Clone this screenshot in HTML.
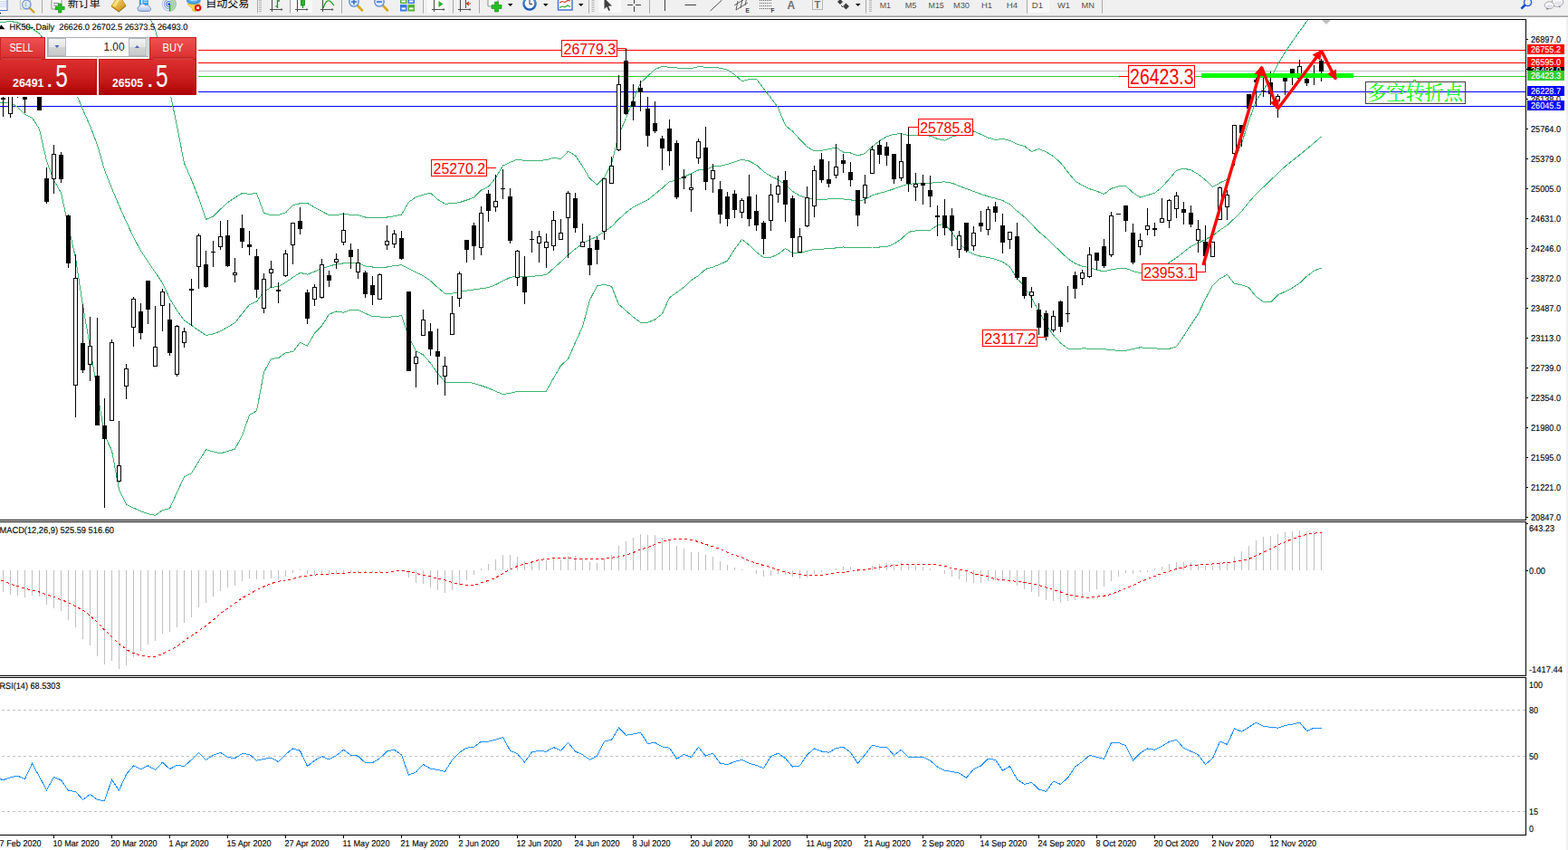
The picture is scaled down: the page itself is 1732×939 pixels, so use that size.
<!DOCTYPE html>
<html><head><meta charset="utf-8"><title>HK50 Daily</title>
<style>
html,body{margin:0;padding:0;background:#fff;}
body{width:1732px;height:939px;overflow:hidden;position:relative;font-family:"Liberation Sans", sans-serif;}
svg text{font-family:"Liberation Sans", sans-serif;}
</style></head><body>
<svg width="1732" height="939" viewBox="0 0 1732 939" font-family='"Liberation Sans", sans-serif' style="position:absolute;left:0;top:0">
<defs>
<linearGradient id="gTop" x1="0" y1="0" x2="0" y2="1"><stop offset="0" stop-color="#f25252"/><stop offset="1" stop-color="#d92e2e"/></linearGradient>
<linearGradient id="gBot" x1="0" y1="0" x2="0" y2="1"><stop offset="0" stop-color="#de3030"/><stop offset="0.55" stop-color="#c81c1c"/><stop offset="1" stop-color="#ae0202"/></linearGradient>
<linearGradient id="gBtn" x1="0" y1="0" x2="0" y2="1"><stop offset="0" stop-color="#f4f4f4"/><stop offset="0.5" stop-color="#e4e4e4"/><stop offset="0.5" stop-color="#d4d4d4"/><stop offset="1" stop-color="#c8c8c8"/></linearGradient>
<clipPath id="cpMain"><rect x="0" y="22" width="1685" height="552"/></clipPath>
<clipPath id="cpAxis"><rect x="0" y="923" width="1732" height="16"/></clipPath>
</defs>
<rect x="0" y="0" width="1732" height="939" fill="#fff"/>
<g clip-path="url(#cpMain)" shape-rendering="crispEdges">
<rect x="0" y="55" width="1685" height="1" fill="#ff0000"/>
<rect x="0" y="69" width="1685" height="1" fill="#ff0000"/>
<rect x="0" y="78" width="1685" height="1" fill="#c0c0c0"/>
<rect x="0" y="84" width="1685" height="1" fill="#32cd32"/>
<rect x="0" y="101" width="1685" height="1" fill="#0000ff"/>
<rect x="0" y="117" width="1685" height="1" fill="#0000ff"/>
<polyline points="158.0,2.0 163.5,15.6 171.5,32.4 179.5,67.9 187.5,100.7 195.5,139.4 203.5,180.3 211.5,198.7 219.5,218.7 227.5,242.4 235.5,239.0 243.5,231.2 251.5,223.7 259.5,218.3 267.5,213.4 275.5,214.3 283.5,213.6 291.5,235.1 299.5,238.0 307.5,237.5 315.5,234.9 323.5,226.5 331.5,224.8 339.5,224.4 347.5,229.3 355.5,233.4 363.5,237.6 371.5,237.2 379.5,236.8 387.5,237.1 395.5,237.6 403.5,240.0 411.5,240.0 419.5,240.0 427.5,240.0 435.5,238.8 443.5,237.2 451.5,223.2 459.5,217.7 467.5,215.1 475.5,213.1 483.5,220.3 491.5,225.3 499.5,224.6 507.5,223.7 515.5,221.0 523.5,218.3 531.5,210.0 539.5,206.3 547.5,196.5 555.5,183.0 563.5,179.3 571.5,176.1 579.5,177.5 587.5,177.5 595.5,177.5 603.5,176.7 611.5,174.4 619.5,175.4 627.5,167.2 635.5,171.7 643.5,183.8 651.5,197.2 659.5,204.1 667.5,196.0 675.5,180.8 683.5,148.6 691.5,130.5 699.5,110.1 707.5,91.7 715.5,84.0 723.5,76.6 731.5,73.5 739.5,74.3 747.5,75.0 755.5,75.5 763.5,75.8 771.5,73.5 779.5,74.3 787.5,74.5 795.5,75.1 803.5,77.1 811.5,82.5 819.5,89.5 827.5,87.7 835.5,87.2 843.5,97.9 851.5,108.1 859.5,119.0 867.5,138.6 875.5,145.1 883.5,154.0 891.5,162.3 899.5,167.0 907.5,166.2 915.5,164.8 923.5,162.8 931.5,168.1 939.5,169.0 947.5,171.9 955.5,169.5 963.5,162.0 971.5,155.7 979.5,150.8 987.5,148.3 995.5,147.7 1003.5,149.7 1011.5,149.4 1019.5,149.4 1027.5,150.1 1035.5,153.4 1043.5,155.1 1051.5,151.1 1059.5,149.3 1067.5,147.1 1075.5,145.0 1083.5,148.4 1091.5,152.1 1099.5,154.4 1107.5,153.5 1115.5,155.4 1123.5,159.4 1131.5,161.3 1139.5,167.6 1147.5,164.4 1155.5,167.8 1163.5,172.7 1171.5,179.8 1179.5,190.0 1187.5,199.9 1195.5,204.9 1203.5,208.7 1211.5,211.2 1219.5,214.6 1227.5,208.3 1235.5,205.9 1243.5,205.6 1251.5,212.8 1259.5,218.1 1267.5,215.6 1275.5,213.3 1283.5,206.7 1291.5,197.7 1299.5,188.4 1307.5,186.1 1315.5,187.9 1323.5,192.4 1331.5,198.8 1339.5,206.5 1347.5,202.0 1355.5,198.2 1363.5,176.9 1371.5,158.4 1379.5,133.6 1387.5,111.2 1395.5,99.2 1403.5,87.0 1411.5,71.2 1419.5,57.8 1427.5,45.8 1435.5,34.6 1443.5,23.6 1451.5,11.8" fill="none" stroke="#3cb371" stroke-width="1"/>
<polyline points="-4.5,24.5 3.5,24.4 11.5,23.4 19.5,25.0 27.5,28.5 35.5,31.5 43.5,37.0 51.5,48.2 59.5,59.3 67.5,72.5 75.5,86.0 83.5,101.5 91.5,121.0 99.5,139.0 107.5,160.0 115.5,188.0 123.5,208.0 131.5,227.0 139.5,245.0 147.5,262.0 155.5,277.0 163.5,289.0 171.5,301.0 179.5,312.5 187.5,330.0 195.5,343.0 203.5,354.0 211.5,359.4 219.5,365.0 227.5,370.4 235.5,369.0 243.5,365.8 251.5,361.3 259.5,356.6 267.5,346.5 275.5,336.5 283.5,333.1 291.5,322.2 299.5,317.3 307.5,316.7 315.5,311.9 323.5,306.4 331.5,301.3 339.5,303.2 347.5,300.0 355.5,296.7 363.5,294.2 371.5,291.8 379.5,290.9 387.5,290.0 395.5,290.7 403.5,293.9 411.5,295.0 419.5,295.0 427.5,295.0 435.5,293.6 443.5,292.7 451.5,296.8 459.5,300.8 467.5,304.8 475.5,310.2 483.5,317.7 491.5,324.2 499.5,324.1 507.5,322.4 515.5,321.1 523.5,319.9 531.5,318.8 539.5,317.6 547.5,314.5 555.5,310.4 563.5,306.5 571.5,305.0 579.5,305.2 587.5,305.3 595.5,304.6 603.5,303.6 611.5,296.4 619.5,289.2 627.5,281.8 635.5,274.9 643.5,268.9 651.5,264.8 659.5,261.2 667.5,255.9 675.5,250.4 683.5,242.1 691.5,234.9 699.5,228.7 707.5,224.8 715.5,220.8 723.5,214.4 731.5,207.9 739.5,200.7 747.5,199.3 755.5,195.4 763.5,191.6 771.5,188.0 779.5,187.3 787.5,184.1 795.5,183.3 803.5,181.4 811.5,178.8 819.5,176.1 827.5,178.0 835.5,182.1 843.5,189.6 851.5,194.6 859.5,198.5 867.5,203.8 875.5,211.3 883.5,216.3 891.5,218.7 899.5,220.7 907.5,220.6 915.5,219.9 923.5,219.2 931.5,220.0 939.5,220.8 947.5,222.4 955.5,220.4 963.5,215.9 971.5,213.4 979.5,211.3 987.5,208.7 995.5,205.7 1003.5,203.3 1011.5,202.8 1019.5,202.8 1027.5,202.4 1035.5,201.3 1043.5,200.9 1051.5,202.2 1059.5,205.5 1067.5,208.5 1075.5,211.4 1083.5,214.4 1091.5,217.0 1099.5,219.2 1107.5,221.5 1115.5,225.7 1123.5,233.2 1131.5,239.7 1139.5,247.5 1147.5,256.2 1155.5,262.7 1163.5,270.4 1171.5,278.0 1179.5,285.6 1187.5,291.0 1195.5,294.2 1203.5,295.6 1211.5,298.1 1219.5,299.9 1227.5,297.9 1235.5,296.7 1243.5,296.4 1251.5,299.5 1259.5,301.8 1267.5,300.9 1275.5,299.1 1283.5,295.1 1291.5,290.0 1299.5,284.8 1307.5,278.4 1315.5,272.2 1323.5,268.4 1331.5,264.6 1339.5,260.5 1347.5,254.2 1355.5,248.9 1363.5,241.3 1371.5,233.5 1379.5,223.3 1387.5,214.4 1395.5,206.8 1403.5,199.1 1411.5,191.5 1419.5,183.9 1427.5,177.5 1435.5,171.1 1443.5,164.7 1451.5,157.8 1459.5,151.0" fill="none" stroke="#3cb371" stroke-width="1"/>
<polyline points="-4.5,112.1 3.5,113.9 11.5,113.5 19.5,118.3 27.5,126.2 35.5,130.2 43.5,142.6 51.5,178.0 59.5,199.0 67.5,213.0 75.5,250.0 83.5,285.0 91.5,337.6 99.5,383.4 107.5,432.3 115.5,481.0 123.5,497.7 131.5,540.9 139.5,557.4 147.5,561.1 155.5,564.8 163.5,567.6 171.5,569.4 179.5,563.6 187.5,561.7 195.5,544.1 203.5,526.8 211.5,522.8 219.5,509.8 227.5,496.7 235.5,498.9 243.5,500.9 251.5,498.5 259.5,496.1 267.5,481.2 275.5,458.4 283.5,453.9 291.5,411.3 299.5,396.3 307.5,395.7 315.5,389.5 323.5,388.7 331.5,378.2 339.5,382.0 347.5,368.2 355.5,360.1 363.5,347.2 371.5,344.0 379.5,345.2 387.5,342.2 395.5,342.2 403.5,346.1 411.5,349.6 419.5,350.0 427.5,350.3 435.5,349.8 443.5,348.6 451.5,372.6 459.5,387.7 467.5,392.0 475.5,401.1 483.5,412.5 491.5,422.0 499.5,422.0 507.5,422.0 515.5,422.0 523.5,423.4 531.5,426.0 539.5,428.7 547.5,432.2 555.5,435.7 563.5,434.3 571.5,432.3 579.5,432.5 587.5,432.7 595.5,432.8 603.5,432.1 611.5,417.7 619.5,403.8 627.5,396.7 635.5,378.5 643.5,360.7 651.5,331.3 659.5,316.0 667.5,314.4 675.5,316.3 683.5,336.3 691.5,343.3 699.5,350.2 707.5,356.2 715.5,356.2 723.5,353.0 731.5,346.7 739.5,328.8 747.5,323.0 755.5,317.4 763.5,309.6 771.5,304.5 779.5,297.3 787.5,295.1 795.5,291.9 803.5,288.1 811.5,275.1 819.5,264.4 827.5,270.7 835.5,278.5 843.5,284.4 851.5,284.4 859.5,280.8 867.5,274.6 875.5,279.5 883.5,279.8 891.5,277.3 899.5,275.4 907.5,275.1 915.5,274.8 923.5,273.9 931.5,273.0 939.5,273.3 947.5,273.6 955.5,273.3 963.5,273.0 971.5,273.0 979.5,272.8 987.5,269.4 995.5,264.1 1003.5,256.4 1011.5,254.9 1019.5,254.6 1027.5,254.1 1035.5,249.1 1043.5,247.2 1051.5,256.9 1059.5,268.5 1067.5,276.5 1075.5,280.9 1083.5,283.3 1091.5,284.3 1099.5,286.3 1107.5,289.3 1115.5,294.9 1123.5,307.5 1131.5,316.7 1139.5,329.5 1147.5,343.7 1155.5,358.7 1163.5,370.1 1171.5,378.9 1179.5,385.0 1187.5,386.0 1195.5,384.9 1203.5,385.1 1211.5,385.4 1219.5,385.7 1227.5,386.6 1235.5,387.4 1243.5,387.3 1251.5,385.5 1259.5,383.8 1267.5,384.4 1275.5,384.9 1283.5,385.2 1291.5,385.3 1299.5,382.9 1307.5,371.3 1315.5,358.6 1323.5,346.8 1331.5,330.2 1339.5,315.4 1347.5,307.8 1355.5,303.3 1363.5,313.4 1371.5,314.8 1379.5,317.7 1387.5,327.8 1395.5,333.3 1403.5,334.0 1411.5,325.9 1419.5,322.1 1427.5,318.1 1435.5,312.8 1443.5,305.2 1451.5,299.1 1459.5,296.2" fill="none" stroke="#3cb371" stroke-width="1"/>
<rect x="3" y="100" width="1" height="29" fill="#000"/>
<rect x="1" y="108" width="5" height="2" fill="#000"/>
<rect x="11" y="100" width="1" height="30" fill="#000"/>
<rect x="9" y="100" width="5" height="26" fill="#000"/>
<rect x="10" y="101" width="3" height="24" fill="#fff"/>
<rect x="19" y="100" width="1" height="8" fill="#000"/>
<rect x="27" y="100" width="1" height="25" fill="#000"/>
<rect x="25" y="100" width="5" height="10" fill="#000"/>
<rect x="43" y="100" width="1" height="22" fill="#000"/>
<rect x="41" y="100" width="5" height="22" fill="#000"/>
<rect x="51" y="185" width="1" height="40" fill="#000"/>
<rect x="49" y="197" width="5" height="26" fill="#000"/>
<rect x="59" y="160" width="1" height="54" fill="#000"/>
<rect x="57" y="170" width="5" height="28" fill="#000"/>
<rect x="58" y="171" width="3" height="26" fill="#fff"/>
<rect x="67" y="168" width="1" height="34" fill="#000"/>
<rect x="65" y="171" width="5" height="27" fill="#000"/>
<rect x="75" y="237" width="1" height="59" fill="#000"/>
<rect x="73" y="238" width="5" height="53" fill="#000"/>
<rect x="83" y="281" width="1" height="180" fill="#000"/>
<rect x="81" y="307" width="5" height="119" fill="#000"/>
<rect x="82" y="308" width="3" height="117" fill="#fff"/>
<rect x="91" y="336" width="1" height="76" fill="#000"/>
<rect x="89" y="379" width="5" height="30" fill="#000"/>
<rect x="99" y="350" width="1" height="71" fill="#000"/>
<rect x="97" y="382" width="5" height="21" fill="#000"/>
<rect x="98" y="383" width="3" height="19" fill="#fff"/>
<rect x="107" y="351" width="1" height="119" fill="#000"/>
<rect x="105" y="415" width="5" height="55" fill="#000"/>
<rect x="115" y="440" width="1" height="121" fill="#000"/>
<rect x="113" y="470" width="5" height="15" fill="#000"/>
<rect x="123" y="375" width="1" height="90" fill="#000"/>
<rect x="121" y="378" width="5" height="87" fill="#000"/>
<rect x="122" y="379" width="3" height="85" fill="#fff"/>
<rect x="131" y="465" width="1" height="68" fill="#000"/>
<rect x="129" y="514" width="5" height="18" fill="#000"/>
<rect x="130" y="515" width="3" height="16" fill="#fff"/>
<rect x="139" y="402" width="1" height="39" fill="#000"/>
<rect x="137" y="407" width="5" height="20" fill="#000"/>
<rect x="138" y="408" width="3" height="18" fill="#fff"/>
<rect x="147" y="328" width="1" height="55" fill="#000"/>
<rect x="145" y="330" width="5" height="32" fill="#000"/>
<rect x="146" y="331" width="3" height="30" fill="#fff"/>
<rect x="155" y="335" width="1" height="40" fill="#000"/>
<rect x="153" y="344" width="5" height="24" fill="#000"/>
<rect x="163" y="310" width="1" height="48" fill="#000"/>
<rect x="161" y="310" width="5" height="32" fill="#000"/>
<rect x="171" y="338" width="1" height="67" fill="#000"/>
<rect x="169" y="383" width="5" height="22" fill="#000"/>
<rect x="170" y="384" width="3" height="20" fill="#fff"/>
<rect x="179" y="319" width="1" height="47" fill="#000"/>
<rect x="177" y="322" width="5" height="16" fill="#000"/>
<rect x="178" y="323" width="3" height="14" fill="#fff"/>
<rect x="187" y="335" width="1" height="58" fill="#000"/>
<rect x="185" y="353" width="5" height="37" fill="#000"/>
<rect x="195" y="359" width="1" height="57" fill="#000"/>
<rect x="193" y="360" width="5" height="54" fill="#000"/>
<rect x="194" y="361" width="3" height="52" fill="#fff"/>
<rect x="203" y="362" width="1" height="22" fill="#000"/>
<rect x="201" y="366" width="5" height="13" fill="#000"/>
<rect x="202" y="367" width="3" height="11" fill="#fff"/>
<rect x="211" y="308" width="1" height="52" fill="#000"/>
<rect x="209" y="319" width="5" height="2" fill="#000"/>
<rect x="219" y="258" width="1" height="61" fill="#000"/>
<rect x="217" y="260" width="5" height="35" fill="#000"/>
<rect x="218" y="261" width="3" height="33" fill="#fff"/>
<rect x="227" y="277" width="1" height="41" fill="#000"/>
<rect x="225" y="292" width="5" height="25" fill="#000"/>
<rect x="235" y="266" width="1" height="29" fill="#000"/>
<rect x="233" y="278" width="5" height="1" fill="#000"/>
<rect x="243" y="244" width="1" height="32" fill="#000"/>
<rect x="241" y="261" width="5" height="12" fill="#000"/>
<rect x="242" y="262" width="3" height="10" fill="#fff"/>
<rect x="251" y="243" width="1" height="52" fill="#000"/>
<rect x="249" y="260" width="5" height="34" fill="#000"/>
<rect x="259" y="285" width="1" height="27" fill="#000"/>
<rect x="257" y="301" width="5" height="3" fill="#000"/>
<rect x="258" y="302" width="3" height="1" fill="#fff"/>
<rect x="267" y="237" width="1" height="37" fill="#000"/>
<rect x="265" y="252" width="5" height="15" fill="#000"/>
<rect x="275" y="255" width="1" height="27" fill="#000"/>
<rect x="273" y="270" width="5" height="3" fill="#000"/>
<rect x="283" y="275" width="1" height="54" fill="#000"/>
<rect x="281" y="283" width="5" height="37" fill="#000"/>
<rect x="291" y="302" width="1" height="44" fill="#000"/>
<rect x="289" y="308" width="5" height="33" fill="#000"/>
<rect x="290" y="309" width="3" height="31" fill="#fff"/>
<rect x="299" y="288" width="1" height="30" fill="#000"/>
<rect x="297" y="297" width="5" height="5" fill="#000"/>
<rect x="298" y="298" width="3" height="3" fill="#fff"/>
<rect x="307" y="312" width="1" height="23" fill="#000"/>
<rect x="305" y="320" width="5" height="2" fill="#000"/>
<rect x="315" y="276" width="1" height="30" fill="#000"/>
<rect x="313" y="280" width="5" height="25" fill="#000"/>
<rect x="314" y="281" width="3" height="23" fill="#fff"/>
<rect x="323" y="246" width="1" height="46" fill="#000"/>
<rect x="321" y="246" width="5" height="25" fill="#000"/>
<rect x="322" y="247" width="3" height="23" fill="#fff"/>
<rect x="331" y="229" width="1" height="30" fill="#000"/>
<rect x="329" y="244" width="5" height="9" fill="#000"/>
<rect x="339" y="320" width="1" height="38" fill="#000"/>
<rect x="337" y="323" width="5" height="29" fill="#000"/>
<rect x="347" y="314" width="1" height="24" fill="#000"/>
<rect x="345" y="317" width="5" height="14" fill="#000"/>
<rect x="346" y="318" width="3" height="12" fill="#fff"/>
<rect x="355" y="286" width="1" height="44" fill="#000"/>
<rect x="353" y="292" width="5" height="37" fill="#000"/>
<rect x="354" y="293" width="3" height="35" fill="#fff"/>
<rect x="363" y="299" width="1" height="18" fill="#000"/>
<rect x="361" y="304" width="5" height="6" fill="#000"/>
<rect x="371" y="280" width="1" height="17" fill="#000"/>
<rect x="369" y="286" width="5" height="4" fill="#000"/>
<rect x="370" y="287" width="3" height="2" fill="#fff"/>
<rect x="379" y="235" width="1" height="36" fill="#000"/>
<rect x="377" y="254" width="5" height="14" fill="#000"/>
<rect x="378" y="255" width="3" height="12" fill="#fff"/>
<rect x="387" y="269" width="1" height="28" fill="#000"/>
<rect x="385" y="276" width="5" height="8" fill="#000"/>
<rect x="395" y="275" width="1" height="33" fill="#000"/>
<rect x="393" y="290" width="5" height="11" fill="#000"/>
<rect x="394" y="291" width="3" height="9" fill="#fff"/>
<rect x="403" y="299" width="1" height="30" fill="#000"/>
<rect x="401" y="301" width="5" height="24" fill="#000"/>
<rect x="411" y="305" width="1" height="32" fill="#000"/>
<rect x="409" y="315" width="5" height="11" fill="#000"/>
<rect x="419" y="302" width="1" height="29" fill="#000"/>
<rect x="417" y="303" width="5" height="28" fill="#000"/>
<rect x="418" y="304" width="3" height="26" fill="#fff"/>
<rect x="427" y="249" width="1" height="27" fill="#000"/>
<rect x="425" y="266" width="5" height="5" fill="#000"/>
<rect x="426" y="267" width="3" height="3" fill="#fff"/>
<rect x="435" y="254" width="1" height="20" fill="#000"/>
<rect x="433" y="258" width="5" height="12" fill="#000"/>
<rect x="434" y="259" width="3" height="10" fill="#fff"/>
<rect x="443" y="255" width="1" height="32" fill="#000"/>
<rect x="441" y="263" width="5" height="23" fill="#000"/>
<rect x="451" y="322" width="1" height="88" fill="#000"/>
<rect x="449" y="322" width="5" height="88" fill="#000"/>
<rect x="459" y="388" width="1" height="40" fill="#000"/>
<rect x="457" y="394" width="5" height="8" fill="#000"/>
<rect x="458" y="395" width="3" height="6" fill="#fff"/>
<rect x="467" y="342" width="1" height="29" fill="#000"/>
<rect x="465" y="353" width="5" height="18" fill="#000"/>
<rect x="466" y="354" width="3" height="16" fill="#fff"/>
<rect x="475" y="357" width="1" height="36" fill="#000"/>
<rect x="473" y="366" width="5" height="20" fill="#000"/>
<rect x="483" y="363" width="1" height="62" fill="#000"/>
<rect x="481" y="388" width="5" height="6" fill="#000"/>
<rect x="491" y="394" width="1" height="43" fill="#000"/>
<rect x="489" y="404" width="5" height="12" fill="#000"/>
<rect x="490" y="405" width="3" height="10" fill="#fff"/>
<rect x="499" y="327" width="1" height="43" fill="#000"/>
<rect x="497" y="346" width="5" height="24" fill="#000"/>
<rect x="498" y="347" width="3" height="22" fill="#fff"/>
<rect x="507" y="300" width="1" height="39" fill="#000"/>
<rect x="505" y="302" width="5" height="28" fill="#000"/>
<rect x="506" y="303" width="3" height="26" fill="#fff"/>
<rect x="515" y="265" width="1" height="25" fill="#000"/>
<rect x="513" y="265" width="5" height="11" fill="#000"/>
<rect x="523" y="246" width="1" height="41" fill="#000"/>
<rect x="521" y="249" width="5" height="23" fill="#000"/>
<rect x="531" y="228" width="1" height="54" fill="#000"/>
<rect x="529" y="235" width="5" height="39" fill="#000"/>
<rect x="530" y="236" width="3" height="37" fill="#fff"/>
<rect x="539" y="210" width="1" height="35" fill="#000"/>
<rect x="537" y="214" width="5" height="19" fill="#000"/>
<rect x="547" y="193" width="1" height="41" fill="#000"/>
<rect x="545" y="222" width="5" height="7" fill="#000"/>
<rect x="546" y="223" width="3" height="5" fill="#fff"/>
<rect x="555" y="187" width="1" height="33" fill="#000"/>
<rect x="553" y="208" width="5" height="1" fill="#000"/>
<rect x="563" y="208" width="1" height="61" fill="#000"/>
<rect x="561" y="217" width="5" height="49" fill="#000"/>
<rect x="571" y="276" width="1" height="40" fill="#000"/>
<rect x="569" y="277" width="5" height="30" fill="#000"/>
<rect x="570" y="278" width="3" height="28" fill="#fff"/>
<rect x="579" y="283" width="1" height="53" fill="#000"/>
<rect x="577" y="306" width="5" height="17" fill="#000"/>
<rect x="587" y="255" width="1" height="24" fill="#000"/>
<rect x="585" y="264" width="5" height="1" fill="#000"/>
<rect x="595" y="255" width="1" height="35" fill="#000"/>
<rect x="593" y="261" width="5" height="8" fill="#000"/>
<rect x="594" y="262" width="3" height="6" fill="#fff"/>
<rect x="603" y="258" width="1" height="38" fill="#000"/>
<rect x="601" y="267" width="5" height="7" fill="#000"/>
<rect x="602" y="268" width="3" height="5" fill="#fff"/>
<rect x="611" y="233" width="1" height="44" fill="#000"/>
<rect x="609" y="243" width="5" height="29" fill="#000"/>
<rect x="610" y="244" width="3" height="27" fill="#fff"/>
<rect x="619" y="242" width="1" height="23" fill="#000"/>
<rect x="617" y="257" width="5" height="8" fill="#000"/>
<rect x="618" y="258" width="3" height="6" fill="#fff"/>
<rect x="627" y="211" width="1" height="74" fill="#000"/>
<rect x="625" y="213" width="5" height="28" fill="#000"/>
<rect x="626" y="214" width="3" height="26" fill="#fff"/>
<rect x="635" y="213" width="1" height="44" fill="#000"/>
<rect x="633" y="219" width="5" height="33" fill="#000"/>
<rect x="643" y="247" width="1" height="26" fill="#000"/>
<rect x="641" y="267" width="5" height="6" fill="#000"/>
<rect x="642" y="268" width="3" height="4" fill="#fff"/>
<rect x="651" y="260" width="1" height="44" fill="#000"/>
<rect x="649" y="274" width="5" height="19" fill="#000"/>
<rect x="659" y="261" width="1" height="31" fill="#000"/>
<rect x="657" y="265" width="5" height="11" fill="#000"/>
<rect x="667" y="197" width="1" height="68" fill="#000"/>
<rect x="665" y="197" width="5" height="59" fill="#000"/>
<rect x="666" y="198" width="3" height="57" fill="#fff"/>
<rect x="675" y="173" width="1" height="30" fill="#000"/>
<rect x="673" y="183" width="5" height="20" fill="#000"/>
<rect x="674" y="184" width="3" height="18" fill="#fff"/>
<rect x="683" y="83" width="1" height="84" fill="#000"/>
<rect x="681" y="93" width="5" height="73" fill="#000"/>
<rect x="682" y="94" width="3" height="71" fill="#fff"/>
<rect x="691" y="53" width="1" height="74" fill="#000"/>
<rect x="689" y="67" width="5" height="59" fill="#000"/>
<rect x="699" y="93" width="1" height="40" fill="#000"/>
<rect x="697" y="112" width="5" height="6" fill="#000"/>
<rect x="707" y="89" width="1" height="34" fill="#000"/>
<rect x="705" y="97" width="5" height="5" fill="#000"/>
<rect x="715" y="107" width="1" height="55" fill="#000"/>
<rect x="713" y="120" width="5" height="30" fill="#000"/>
<rect x="723" y="112" width="1" height="35" fill="#000"/>
<rect x="721" y="136" width="5" height="9" fill="#000"/>
<rect x="731" y="150" width="1" height="38" fill="#000"/>
<rect x="729" y="153" width="5" height="11" fill="#000"/>
<rect x="739" y="132" width="1" height="51" fill="#000"/>
<rect x="737" y="142" width="5" height="25" fill="#000"/>
<rect x="747" y="155" width="1" height="65" fill="#000"/>
<rect x="745" y="158" width="5" height="60" fill="#000"/>
<rect x="755" y="187" width="1" height="22" fill="#000"/>
<rect x="753" y="195" width="5" height="2" fill="#000"/>
<rect x="763" y="192" width="1" height="42" fill="#000"/>
<rect x="761" y="207" width="5" height="3" fill="#000"/>
<rect x="762" y="208" width="3" height="1" fill="#fff"/>
<rect x="771" y="153" width="1" height="28" fill="#000"/>
<rect x="769" y="156" width="5" height="19" fill="#000"/>
<rect x="770" y="157" width="3" height="17" fill="#fff"/>
<rect x="779" y="140" width="1" height="70" fill="#000"/>
<rect x="777" y="163" width="5" height="38" fill="#000"/>
<rect x="787" y="181" width="1" height="32" fill="#000"/>
<rect x="785" y="188" width="5" height="10" fill="#000"/>
<rect x="786" y="189" width="3" height="8" fill="#fff"/>
<rect x="795" y="200" width="1" height="47" fill="#000"/>
<rect x="793" y="209" width="5" height="28" fill="#000"/>
<rect x="803" y="212" width="1" height="38" fill="#000"/>
<rect x="801" y="217" width="5" height="25" fill="#000"/>
<rect x="811" y="210" width="1" height="31" fill="#000"/>
<rect x="809" y="214" width="5" height="18" fill="#000"/>
<rect x="819" y="219" width="1" height="22" fill="#000"/>
<rect x="817" y="221" width="5" height="14" fill="#000"/>
<rect x="818" y="222" width="3" height="12" fill="#fff"/>
<rect x="827" y="193" width="1" height="57" fill="#000"/>
<rect x="825" y="217" width="5" height="25" fill="#000"/>
<rect x="835" y="215" width="1" height="40" fill="#000"/>
<rect x="833" y="233" width="5" height="16" fill="#000"/>
<rect x="843" y="244" width="1" height="37" fill="#000"/>
<rect x="841" y="246" width="5" height="18" fill="#000"/>
<rect x="851" y="203" width="1" height="52" fill="#000"/>
<rect x="849" y="215" width="5" height="29" fill="#000"/>
<rect x="850" y="216" width="3" height="27" fill="#fff"/>
<rect x="859" y="194" width="1" height="30" fill="#000"/>
<rect x="857" y="205" width="5" height="10" fill="#000"/>
<rect x="858" y="206" width="3" height="8" fill="#fff"/>
<rect x="867" y="189" width="1" height="56" fill="#000"/>
<rect x="865" y="199" width="5" height="27" fill="#000"/>
<rect x="875" y="216" width="1" height="68" fill="#000"/>
<rect x="873" y="219" width="5" height="44" fill="#000"/>
<rect x="883" y="252" width="1" height="27" fill="#000"/>
<rect x="881" y="261" width="5" height="18" fill="#000"/>
<rect x="882" y="262" width="3" height="16" fill="#fff"/>
<rect x="891" y="206" width="1" height="45" fill="#000"/>
<rect x="889" y="218" width="5" height="32" fill="#000"/>
<rect x="890" y="219" width="3" height="30" fill="#fff"/>
<rect x="899" y="183" width="1" height="57" fill="#000"/>
<rect x="897" y="188" width="5" height="40" fill="#000"/>
<rect x="898" y="189" width="3" height="38" fill="#fff"/>
<rect x="907" y="169" width="1" height="33" fill="#000"/>
<rect x="905" y="176" width="5" height="23" fill="#000"/>
<rect x="915" y="178" width="1" height="29" fill="#000"/>
<rect x="913" y="198" width="5" height="5" fill="#000"/>
<rect x="923" y="159" width="1" height="38" fill="#000"/>
<rect x="921" y="184" width="5" height="10" fill="#000"/>
<rect x="922" y="185" width="3" height="8" fill="#fff"/>
<rect x="931" y="170" width="1" height="21" fill="#000"/>
<rect x="929" y="177" width="5" height="4" fill="#000"/>
<rect x="939" y="179" width="1" height="27" fill="#000"/>
<rect x="937" y="190" width="5" height="9" fill="#000"/>
<rect x="947" y="210" width="1" height="40" fill="#000"/>
<rect x="945" y="210" width="5" height="28" fill="#000"/>
<rect x="955" y="193" width="1" height="32" fill="#000"/>
<rect x="953" y="204" width="5" height="15" fill="#000"/>
<rect x="954" y="205" width="3" height="13" fill="#fff"/>
<rect x="963" y="161" width="1" height="31" fill="#000"/>
<rect x="961" y="165" width="5" height="27" fill="#000"/>
<rect x="962" y="166" width="3" height="25" fill="#fff"/>
<rect x="971" y="155" width="1" height="26" fill="#000"/>
<rect x="969" y="160" width="5" height="11" fill="#000"/>
<rect x="979" y="157" width="1" height="26" fill="#000"/>
<rect x="977" y="162" width="5" height="10" fill="#000"/>
<rect x="987" y="170" width="1" height="33" fill="#000"/>
<rect x="985" y="170" width="5" height="28" fill="#000"/>
<rect x="995" y="147" width="1" height="53" fill="#000"/>
<rect x="993" y="178" width="5" height="19" fill="#000"/>
<rect x="994" y="179" width="3" height="17" fill="#fff"/>
<rect x="1003" y="140" width="1" height="72" fill="#000"/>
<rect x="1001" y="159" width="5" height="44" fill="#000"/>
<rect x="1011" y="191" width="1" height="31" fill="#000"/>
<rect x="1009" y="203" width="5" height="4" fill="#000"/>
<rect x="1010" y="204" width="3" height="2" fill="#fff"/>
<rect x="1019" y="193" width="1" height="33" fill="#000"/>
<rect x="1017" y="202" width="5" height="3" fill="#000"/>
<rect x="1027" y="194" width="1" height="35" fill="#000"/>
<rect x="1025" y="210" width="5" height="7" fill="#000"/>
<rect x="1035" y="227" width="1" height="34" fill="#000"/>
<rect x="1033" y="238" width="5" height="2" fill="#000"/>
<rect x="1043" y="220" width="1" height="40" fill="#000"/>
<rect x="1041" y="238" width="5" height="14" fill="#000"/>
<rect x="1051" y="230" width="1" height="42" fill="#000"/>
<rect x="1049" y="238" width="5" height="17" fill="#000"/>
<rect x="1059" y="255" width="1" height="30" fill="#000"/>
<rect x="1057" y="260" width="5" height="16" fill="#000"/>
<rect x="1058" y="261" width="3" height="14" fill="#fff"/>
<rect x="1067" y="246" width="1" height="33" fill="#000"/>
<rect x="1065" y="246" width="5" height="31" fill="#000"/>
<rect x="1075" y="250" width="1" height="27" fill="#000"/>
<rect x="1073" y="257" width="5" height="15" fill="#000"/>
<rect x="1074" y="258" width="3" height="13" fill="#fff"/>
<rect x="1083" y="233" width="1" height="23" fill="#000"/>
<rect x="1081" y="246" width="5" height="4" fill="#000"/>
<rect x="1091" y="228" width="1" height="32" fill="#000"/>
<rect x="1089" y="231" width="5" height="23" fill="#000"/>
<rect x="1090" y="232" width="3" height="21" fill="#fff"/>
<rect x="1099" y="223" width="1" height="22" fill="#000"/>
<rect x="1097" y="228" width="5" height="7" fill="#000"/>
<rect x="1107" y="236" width="1" height="44" fill="#000"/>
<rect x="1105" y="249" width="5" height="19" fill="#000"/>
<rect x="1115" y="257" width="1" height="18" fill="#000"/>
<rect x="1113" y="256" width="5" height="9" fill="#000"/>
<rect x="1114" y="257" width="3" height="7" fill="#fff"/>
<rect x="1123" y="246" width="1" height="63" fill="#000"/>
<rect x="1121" y="261" width="5" height="46" fill="#000"/>
<rect x="1131" y="306" width="1" height="24" fill="#000"/>
<rect x="1129" y="306" width="5" height="21" fill="#000"/>
<rect x="1139" y="317" width="1" height="23" fill="#000"/>
<rect x="1137" y="322" width="5" height="5" fill="#000"/>
<rect x="1138" y="323" width="3" height="3" fill="#fff"/>
<rect x="1147" y="335" width="1" height="35" fill="#000"/>
<rect x="1145" y="342" width="5" height="20" fill="#000"/>
<rect x="1155" y="343" width="1" height="33" fill="#000"/>
<rect x="1153" y="346" width="5" height="26" fill="#000"/>
<rect x="1163" y="343" width="1" height="24" fill="#000"/>
<rect x="1161" y="349" width="5" height="16" fill="#000"/>
<rect x="1162" y="350" width="3" height="14" fill="#fff"/>
<rect x="1171" y="332" width="1" height="35" fill="#000"/>
<rect x="1169" y="333" width="5" height="28" fill="#000"/>
<rect x="1179" y="316" width="1" height="40" fill="#000"/>
<rect x="1177" y="346" width="5" height="1" fill="#000"/>
<rect x="1187" y="300" width="1" height="30" fill="#000"/>
<rect x="1185" y="304" width="5" height="15" fill="#000"/>
<rect x="1195" y="298" width="1" height="17" fill="#000"/>
<rect x="1193" y="301" width="5" height="7" fill="#000"/>
<rect x="1194" y="302" width="3" height="5" fill="#fff"/>
<rect x="1203" y="273" width="1" height="34" fill="#000"/>
<rect x="1201" y="281" width="5" height="25" fill="#000"/>
<rect x="1202" y="282" width="3" height="23" fill="#fff"/>
<rect x="1211" y="279" width="1" height="19" fill="#000"/>
<rect x="1209" y="279" width="5" height="9" fill="#000"/>
<rect x="1219" y="264" width="1" height="32" fill="#000"/>
<rect x="1217" y="272" width="5" height="22" fill="#000"/>
<rect x="1227" y="234" width="1" height="50" fill="#000"/>
<rect x="1225" y="238" width="5" height="44" fill="#000"/>
<rect x="1226" y="239" width="3" height="42" fill="#fff"/>
<rect x="1233" y="236" width="5" height="1" fill="#000"/>
<rect x="1243" y="227" width="1" height="29" fill="#000"/>
<rect x="1241" y="227" width="5" height="17" fill="#000"/>
<rect x="1251" y="247" width="1" height="45" fill="#000"/>
<rect x="1249" y="257" width="5" height="33" fill="#000"/>
<rect x="1259" y="258" width="1" height="24" fill="#000"/>
<rect x="1257" y="265" width="5" height="8" fill="#000"/>
<rect x="1258" y="266" width="3" height="6" fill="#fff"/>
<rect x="1267" y="230" width="1" height="30" fill="#000"/>
<rect x="1265" y="249" width="5" height="5" fill="#000"/>
<rect x="1266" y="250" width="3" height="3" fill="#fff"/>
<rect x="1275" y="246" width="1" height="15" fill="#000"/>
<rect x="1273" y="252" width="5" height="2" fill="#000"/>
<rect x="1283" y="219" width="1" height="27" fill="#000"/>
<rect x="1281" y="241" width="5" height="5" fill="#000"/>
<rect x="1282" y="242" width="3" height="3" fill="#fff"/>
<rect x="1291" y="220" width="1" height="32" fill="#000"/>
<rect x="1289" y="221" width="5" height="23" fill="#000"/>
<rect x="1290" y="222" width="3" height="21" fill="#fff"/>
<rect x="1299" y="212" width="1" height="29" fill="#000"/>
<rect x="1297" y="216" width="5" height="15" fill="#000"/>
<rect x="1298" y="217" width="3" height="13" fill="#fff"/>
<rect x="1307" y="223" width="1" height="25" fill="#000"/>
<rect x="1305" y="231" width="5" height="4" fill="#000"/>
<rect x="1315" y="227" width="1" height="24" fill="#000"/>
<rect x="1313" y="235" width="5" height="13" fill="#000"/>
<rect x="1323" y="243" width="1" height="36" fill="#000"/>
<rect x="1321" y="253" width="5" height="13" fill="#000"/>
<rect x="1322" y="254" width="3" height="11" fill="#fff"/>
<rect x="1331" y="249" width="1" height="51" fill="#000"/>
<rect x="1329" y="267" width="5" height="16" fill="#000"/>
<rect x="1339" y="268" width="1" height="16" fill="#000"/>
<rect x="1337" y="267" width="5" height="17" fill="#000"/>
<rect x="1338" y="268" width="3" height="15" fill="#fff"/>
<rect x="1347" y="206" width="1" height="37" fill="#000"/>
<rect x="1345" y="207" width="5" height="36" fill="#000"/>
<rect x="1346" y="208" width="3" height="34" fill="#fff"/>
<rect x="1355" y="210" width="1" height="33" fill="#000"/>
<rect x="1353" y="215" width="5" height="14" fill="#000"/>
<rect x="1354" y="216" width="3" height="12" fill="#fff"/>
<rect x="1363" y="138" width="1" height="45" fill="#000"/>
<rect x="1361" y="138" width="5" height="32" fill="#000"/>
<rect x="1362" y="139" width="3" height="30" fill="#fff"/>
<rect x="1371" y="138" width="1" height="24" fill="#000"/>
<rect x="1369" y="138" width="5" height="9" fill="#000"/>
<rect x="1379" y="104" width="1" height="16" fill="#000"/>
<rect x="1377" y="104" width="5" height="16" fill="#000"/>
<rect x="1387" y="86" width="1" height="31" fill="#000"/>
<rect x="1385" y="88" width="5" height="3" fill="#000"/>
<rect x="1395" y="80" width="1" height="27" fill="#000"/>
<rect x="1393" y="100" width="5" height="1" fill="#000"/>
<rect x="1403" y="79" width="1" height="37" fill="#000"/>
<rect x="1401" y="91" width="5" height="13" fill="#000"/>
<rect x="1411" y="104" width="1" height="26" fill="#000"/>
<rect x="1409" y="106" width="5" height="6" fill="#000"/>
<rect x="1410" y="107" width="3" height="4" fill="#fff"/>
<rect x="1419" y="86" width="1" height="19" fill="#000"/>
<rect x="1417" y="86" width="5" height="4" fill="#000"/>
<rect x="1427" y="76" width="1" height="18" fill="#000"/>
<rect x="1425" y="76" width="5" height="5" fill="#000"/>
<rect x="1435" y="66" width="1" height="21" fill="#000"/>
<rect x="1433" y="73" width="5" height="14" fill="#000"/>
<rect x="1434" y="74" width="3" height="12" fill="#fff"/>
<rect x="1443" y="86" width="1" height="9" fill="#000"/>
<rect x="1441" y="87" width="5" height="5" fill="#000"/>
<rect x="1451" y="72" width="1" height="22" fill="#000"/>
<rect x="1449" y="84" width="5" height="1" fill="#000"/>
<rect x="1459" y="65" width="1" height="25" fill="#000"/>
<rect x="1457" y="67" width="5" height="12" fill="#000"/>
</g>
<g clip-path="url(#cpMain)">
<rect x="1327" y="81" width="168" height="5" fill="#00ff00" shape-rendering="crispEdges"/>
<line x1="682" y1="53.5" x2="692" y2="53.5" stroke="#ff0000" stroke-width="1" shape-rendering="crispEdges"/>
<rect x="620.5" y="44.5" width="61" height="18" fill="#fff" stroke="#ff0000" stroke-width="1" shape-rendering="crispEdges"/>
<text x="622.55" y="59.7" font-size="17" fill="#ff0000" textLength="57.5" lengthAdjust="spacingAndGlyphs">26779.3</text>
<line x1="538" y1="185.5" x2="548" y2="185.5" stroke="#ff0000" stroke-width="1" shape-rendering="crispEdges"/>
<rect x="476.5" y="176.5" width="61" height="18" fill="#fff" stroke="#ff0000" stroke-width="1" shape-rendering="crispEdges"/>
<text x="478.55" y="191.7" font-size="17" fill="#ff0000" textLength="57.5" lengthAdjust="spacingAndGlyphs">25270.2</text>
<line x1="1003" y1="140.5" x2="1014" y2="140.5" stroke="#ff0000" stroke-width="1" shape-rendering="crispEdges"/>
<rect x="1014.5" y="131.5" width="60" height="18" fill="#fff" stroke="#ff0000" stroke-width="1" shape-rendering="crispEdges"/>
<text x="1016.3" y="146.7" font-size="17" fill="#ff0000" textLength="57" lengthAdjust="spacingAndGlyphs">25785.8</text>
<line x1="1145" y1="372.5" x2="1156" y2="372.5" stroke="#ff0000" stroke-width="1" shape-rendering="crispEdges"/>
<rect x="1085.5" y="364.5" width="60" height="18" fill="#fff" stroke="#ff0000" stroke-width="1" shape-rendering="crispEdges"/>
<text x="1087.3" y="379.7" font-size="17" fill="#ff0000" textLength="57" lengthAdjust="spacingAndGlyphs">23117.2</text>
<line x1="1321" y1="300.5" x2="1332" y2="300.5" stroke="#ff0000" stroke-width="1" shape-rendering="crispEdges"/>
<line x1="1331.5" y1="283" x2="1331.5" y2="301" stroke="#ff0000" stroke-width="1" shape-rendering="crispEdges"/>
<rect x="1261.5" y="291.5" width="60" height="18" fill="#fff" stroke="#ff0000" stroke-width="1" shape-rendering="crispEdges"/>
<text x="1263.3" y="306.7" font-size="17" fill="#ff0000" textLength="57" lengthAdjust="spacingAndGlyphs">23953.1</text>
<line x1="1236" y1="84.5" x2="1246" y2="84.5" stroke="#ff0000" stroke-width="1" shape-rendering="crispEdges"/>
<rect x="1246.5" y="72.5" width="73" height="24" fill="#fff" stroke="#ff0000" stroke-width="1" shape-rendering="crispEdges"/>
<text x="1248.05" y="93" font-size="23.2" fill="#ff0000" textLength="70.5" lengthAdjust="spacingAndGlyphs">26423.3</text>
<rect x="1508.5" y="90.5" width="110" height="24" fill="none" stroke="#404040" stroke-width="1" shape-rendering="crispEdges"/>
<text x="1510" y="109.5" font-size="21.5" fill="#00ff00" textLength="106" lengthAdjust="spacingAndGlyphs" style='font-family:"Liberation Sans", "Noto Serif CJK SC", "Noto Sans CJK SC", serif;'>多空转折点</text>
<rect x="1561.5" y="88.5" width="2" height="2" fill="#fff" stroke="#00e000" stroke-width="1" shape-rendering="crispEdges"/>
<line x1="1329" y1="293" x2="1393.5" y2="74" stroke="#ff0000" stroke-width="3.4" stroke-linecap="butt"/>
<polygon points="1393.9,72.6 1396.0,84.6 1385.6,81.6" fill="#ff0000"/>
<line x1="1393.5" y1="74" x2="1411.3" y2="120" stroke="#ff0000" stroke-width="3.4" stroke-linecap="butt"/>
<polygon points="1411.8,121.4 1402.8,113.1 1412.9,109.2" fill="#ff0000"/>
<line x1="1411.3" y1="120.5" x2="1459.6" y2="56" stroke="#ff0000" stroke-width="3.4" stroke-linecap="butt"/>
<polygon points="1460.5,54.8 1458.2,66.8 1449.6,60.4" fill="#ff0000"/>
<line x1="1459.6" y1="56" x2="1475.5" y2="87.5" stroke="#ff0000" stroke-width="3.4" stroke-linecap="butt"/>
<polygon points="1476.2,88.8 1466.4,81.5 1476.0,76.6" fill="#ff0000"/>
</g>
<polygon points="1460,22 1470,22 1465,27" fill="#c0c0c0"/>
<polygon points="-2.6,32.2 1.5,27.6 5.4,32.2" fill="#000"/>
<text x="10.5" y="33" font-size="9.6" fill="#000" textLength="197" lengthAdjust="spacingAndGlyphs" stroke="#000" stroke-width="0.12" text-rendering="geometricPrecision">HK50-,Daily&#160;&#160;26626.0 26702.5 26373.5 26493.0</text>
<g>
<rect x="0" y="41" width="219" height="66" fill="#fff"/>
<rect x="0" y="41" width="50" height="24" fill="url(#gTop)"/>
<rect x="165" y="41" width="52" height="24" fill="url(#gTop)"/>
<rect x="0" y="65" width="107" height="40" fill="url(#gBot)"/>
<rect x="109" y="65" width="108" height="40" fill="url(#gBot)"/>
<rect x="0" y="41" width="50" height="1" fill="#c01c1c"/>
<rect x="49" y="41" width="1" height="24" fill="#c01c1c"/>
<rect x="0" y="41" width="1" height="24" fill="#c82424"/>
<rect x="165" y="41" width="52" height="1" fill="#c01c1c"/>
<rect x="165" y="41" width="1" height="24" fill="#c01c1c"/>
<rect x="216" y="41" width="1" height="24" fill="#c01c1c"/>
<rect x="0" y="65" width="107" height="1" fill="#c41818"/>
<rect x="109" y="65" width="108" height="1" fill="#c41818"/>
<rect x="106" y="65" width="1" height="40" fill="#b01010"/>
<rect x="109" y="65" width="1" height="40" fill="#b01010"/>
<rect x="216" y="65" width="1" height="40" fill="#b01010"/>
<rect x="2" y="63.6" width="44" height="1" fill="#9c0c0c"/>
<rect x="2" y="64.6" width="44" height="0.8" fill="#f07070"/>
<rect x="169" y="63.6" width="44" height="1" fill="#9c0c0c"/>
<rect x="169" y="64.6" width="44" height="0.8" fill="#f07070"/>
<text x="23.5" y="56.5" font-size="12" fill="#fff" text-anchor="middle" textLength="26" lengthAdjust="spacingAndGlyphs">SELL</text>
<text x="191" y="56.5" font-size="12" fill="#fff" text-anchor="middle" textLength="23" lengthAdjust="spacingAndGlyphs">BUY</text>
<rect x="52.5" y="41.5" width="111" height="21" fill="#fff" stroke="#a8acb4" stroke-width="1"/>
<rect x="53.5" y="42.5" width="19" height="19" fill="url(#gBtn)" stroke="#b4b8c0" stroke-width="1"/>
<rect x="142.5" y="42.5" width="19" height="19" fill="url(#gBtn)" stroke="#b4b8c0" stroke-width="1"/>
<polygon points="60.5,50 65.5,50 63,53" fill="#5060c0"/>
<polygon points="149,53 154,53 151.5,50" fill="#5060c0"/>
<text x="137.5" y="56" font-size="12.5" fill="#202020" text-anchor="end" textLength="23" lengthAdjust="spacingAndGlyphs">1.00</text>
<text x="14" y="95.7" font-size="12.2" fill="#fff" textLength="34.5" lengthAdjust="spacingAndGlyphs" font-weight="bold">26491</text>
<text x="52" y="95.7" font-size="20" fill="#fff" font-weight="bold">.</text>
<text x="61.2" y="95.7" font-size="34.6" fill="#fff" textLength="13.6" lengthAdjust="spacingAndGlyphs">5</text>
<text x="124" y="95.7" font-size="12.2" fill="#fff" textLength="34" lengthAdjust="spacingAndGlyphs" font-weight="bold">26505</text>
<text x="163" y="95.7" font-size="20" fill="#fff" font-weight="bold">.</text>
<text x="172" y="95.7" font-size="34.6" fill="#fff" textLength="13.6" lengthAdjust="spacingAndGlyphs">5</text>
</g>
<g shape-rendering="crispEdges">
<rect x="0" y="21" width="1686" height="1" fill="#000"/>
<rect x="1685" y="21" width="1" height="554" fill="#000"/>
<rect x="1685" y="576" width="1" height="171" fill="#000"/>
<rect x="1685" y="748" width="1" height="175" fill="#000"/>
<rect x="0" y="574" width="1686" height="1" fill="#000"/>
<rect x="0" y="576" width="1686" height="1" fill="#000"/>
<rect x="0" y="746" width="1686" height="1" fill="#000"/>
<rect x="0" y="748" width="1686" height="1" fill="#000"/>
<rect x="0" y="922" width="1686" height="1" fill="#000"/>
<rect x="1730" y="19" width="2" height="920" fill="#f0f0f0"/>
</g>
<rect x="1686" y="43" width="2" height="1" fill="#000" shape-rendering="crispEdges"/>
<text x="1691" y="47" font-size="9.9" fill="#000" textLength="33" lengthAdjust="spacingAndGlyphs" stroke="#000" stroke-width="0.12" text-rendering="geometricPrecision">26897.0</text>
<rect x="1686" y="76" width="2" height="1" fill="#000" shape-rendering="crispEdges"/>
<text x="1691" y="80" font-size="9.9" fill="#000" textLength="33" lengthAdjust="spacingAndGlyphs" stroke="#000" stroke-width="0.12" text-rendering="geometricPrecision">26513.0</text>
<rect x="1686" y="109" width="2" height="1" fill="#000" shape-rendering="crispEdges"/>
<text x="1691" y="113" font-size="9.9" fill="#000" textLength="33" lengthAdjust="spacingAndGlyphs" stroke="#000" stroke-width="0.12" text-rendering="geometricPrecision">26138.0</text>
<rect x="1686" y="142" width="2" height="1" fill="#000" shape-rendering="crispEdges"/>
<text x="1691" y="146" font-size="9.9" fill="#000" textLength="33" lengthAdjust="spacingAndGlyphs" stroke="#000" stroke-width="0.12" text-rendering="geometricPrecision">25764.0</text>
<rect x="1686" y="175" width="2" height="1" fill="#000" shape-rendering="crispEdges"/>
<text x="1691" y="179" font-size="9.9" fill="#000" textLength="33" lengthAdjust="spacingAndGlyphs" stroke="#000" stroke-width="0.12" text-rendering="geometricPrecision">25379.0</text>
<rect x="1686" y="208" width="2" height="1" fill="#000" shape-rendering="crispEdges"/>
<text x="1691" y="212" font-size="9.9" fill="#000" textLength="33" lengthAdjust="spacingAndGlyphs" stroke="#000" stroke-width="0.12" text-rendering="geometricPrecision">25005.0</text>
<rect x="1686" y="241" width="2" height="1" fill="#000" shape-rendering="crispEdges"/>
<text x="1691" y="245" font-size="9.9" fill="#000" textLength="33" lengthAdjust="spacingAndGlyphs" stroke="#000" stroke-width="0.12" text-rendering="geometricPrecision">24631.0</text>
<rect x="1686" y="274" width="2" height="1" fill="#000" shape-rendering="crispEdges"/>
<text x="1691" y="278" font-size="9.9" fill="#000" textLength="33" lengthAdjust="spacingAndGlyphs" stroke="#000" stroke-width="0.12" text-rendering="geometricPrecision">24246.0</text>
<rect x="1686" y="307" width="2" height="1" fill="#000" shape-rendering="crispEdges"/>
<text x="1691" y="311" font-size="9.9" fill="#000" textLength="33" lengthAdjust="spacingAndGlyphs" stroke="#000" stroke-width="0.12" text-rendering="geometricPrecision">23872.0</text>
<rect x="1686" y="340" width="2" height="1" fill="#000" shape-rendering="crispEdges"/>
<text x="1691" y="344" font-size="9.9" fill="#000" textLength="33" lengthAdjust="spacingAndGlyphs" stroke="#000" stroke-width="0.12" text-rendering="geometricPrecision">23487.0</text>
<rect x="1686" y="373" width="2" height="1" fill="#000" shape-rendering="crispEdges"/>
<text x="1691" y="377" font-size="9.9" fill="#000" textLength="33" lengthAdjust="spacingAndGlyphs" stroke="#000" stroke-width="0.12" text-rendering="geometricPrecision">23113.0</text>
<rect x="1686" y="406" width="2" height="1" fill="#000" shape-rendering="crispEdges"/>
<text x="1691" y="410" font-size="9.9" fill="#000" textLength="33" lengthAdjust="spacingAndGlyphs" stroke="#000" stroke-width="0.12" text-rendering="geometricPrecision">22739.0</text>
<rect x="1686" y="439" width="2" height="1" fill="#000" shape-rendering="crispEdges"/>
<text x="1691" y="443" font-size="9.9" fill="#000" textLength="33" lengthAdjust="spacingAndGlyphs" stroke="#000" stroke-width="0.12" text-rendering="geometricPrecision">22354.0</text>
<rect x="1686" y="472" width="2" height="1" fill="#000" shape-rendering="crispEdges"/>
<text x="1691" y="476" font-size="9.9" fill="#000" textLength="33" lengthAdjust="spacingAndGlyphs" stroke="#000" stroke-width="0.12" text-rendering="geometricPrecision">21980.0</text>
<rect x="1686" y="505" width="2" height="1" fill="#000" shape-rendering="crispEdges"/>
<text x="1691" y="509" font-size="9.9" fill="#000" textLength="33" lengthAdjust="spacingAndGlyphs" stroke="#000" stroke-width="0.12" text-rendering="geometricPrecision">21595.0</text>
<rect x="1686" y="538" width="2" height="1" fill="#000" shape-rendering="crispEdges"/>
<text x="1691" y="542" font-size="9.9" fill="#000" textLength="33" lengthAdjust="spacingAndGlyphs" stroke="#000" stroke-width="0.12" text-rendering="geometricPrecision">21221.0</text>
<rect x="1686" y="571" width="2" height="1" fill="#000" shape-rendering="crispEdges"/>
<text x="1691" y="575" font-size="9.9" fill="#000" textLength="33" lengthAdjust="spacingAndGlyphs" stroke="#000" stroke-width="0.12" text-rendering="geometricPrecision">20847.0</text>
<rect x="1687" y="72" width="41" height="11" fill="#000" shape-rendering="crispEdges"/>
<text x="1691" y="81" font-size="9.9" fill="#fff" textLength="33" lengthAdjust="spacingAndGlyphs" stroke="#fff" stroke-width="0.12" text-rendering="geometricPrecision">26493.0</text>
<rect x="1687" y="49" width="41" height="11" fill="#ff0000" shape-rendering="crispEdges"/>
<text x="1691" y="58" font-size="9.9" fill="#fff" textLength="33" lengthAdjust="spacingAndGlyphs" stroke="#fff" stroke-width="0.12" text-rendering="geometricPrecision">26755.2</text>
<rect x="1687" y="63" width="41" height="11" fill="#ff0000" shape-rendering="crispEdges"/>
<text x="1691" y="72" font-size="9.9" fill="#fff" textLength="33" lengthAdjust="spacingAndGlyphs" stroke="#fff" stroke-width="0.12" text-rendering="geometricPrecision">26595.0</text>
<rect x="1687" y="78" width="41" height="11" fill="#32cd32" shape-rendering="crispEdges"/>
<text x="1691" y="87" font-size="9.9" fill="#fff" textLength="33" lengthAdjust="spacingAndGlyphs" stroke="#fff" stroke-width="0.12" text-rendering="geometricPrecision">26423.3</text>
<rect x="1687" y="95" width="41" height="11" fill="#0000ff" shape-rendering="crispEdges"/>
<text x="1691" y="104" font-size="9.9" fill="#fff" textLength="33" lengthAdjust="spacingAndGlyphs" stroke="#fff" stroke-width="0.12" text-rendering="geometricPrecision">26228.7</text>
<rect x="1687" y="111" width="41" height="11" fill="#0000ff" shape-rendering="crispEdges"/>
<text x="1691" y="120" font-size="9.9" fill="#fff" textLength="33" lengthAdjust="spacingAndGlyphs" stroke="#fff" stroke-width="0.12" text-rendering="geometricPrecision">26045.5</text>
<text x="-0.5" y="589" font-size="9.9" fill="#000" textLength="126.5" lengthAdjust="spacingAndGlyphs" stroke="#000" stroke-width="0.12" text-rendering="geometricPrecision">MACD(12,26,9) 525.59 516.60</text>
<g shape-rendering="crispEdges">
<rect x="3" y="630" width="1" height="24" fill="#c0c0c0"/>
<rect x="11" y="630" width="1" height="27" fill="#c0c0c0"/>
<rect x="19" y="630" width="1" height="28" fill="#c0c0c0"/>
<rect x="27" y="630" width="1" height="30" fill="#c0c0c0"/>
<rect x="35" y="630" width="1" height="28" fill="#c0c0c0"/>
<rect x="43" y="630" width="1" height="29" fill="#c0c0c0"/>
<rect x="51" y="630" width="1" height="38" fill="#c0c0c0"/>
<rect x="59" y="630" width="1" height="42" fill="#c0c0c0"/>
<rect x="67" y="630" width="1" height="45" fill="#c0c0c0"/>
<rect x="75" y="630" width="1" height="55" fill="#c0c0c0"/>
<rect x="83" y="630" width="1" height="63" fill="#c0c0c0"/>
<rect x="91" y="630" width="1" height="76" fill="#c0c0c0"/>
<rect x="99" y="630" width="1" height="83" fill="#c0c0c0"/>
<rect x="107" y="630" width="1" height="95" fill="#c0c0c0"/>
<rect x="115" y="630" width="1" height="104" fill="#c0c0c0"/>
<rect x="123" y="630" width="1" height="100" fill="#c0c0c0"/>
<rect x="131" y="630" width="1" height="109" fill="#c0c0c0"/>
<rect x="139" y="630" width="1" height="105" fill="#c0c0c0"/>
<rect x="147" y="630" width="1" height="96" fill="#c0c0c0"/>
<rect x="155" y="630" width="1" height="89" fill="#c0c0c0"/>
<rect x="163" y="630" width="1" height="82" fill="#c0c0c0"/>
<rect x="171" y="630" width="1" height="78" fill="#c0c0c0"/>
<rect x="179" y="630" width="1" height="70" fill="#c0c0c0"/>
<rect x="187" y="630" width="1" height="68" fill="#c0c0c0"/>
<rect x="195" y="630" width="1" height="63" fill="#c0c0c0"/>
<rect x="203" y="630" width="1" height="58" fill="#c0c0c0"/>
<rect x="211" y="630" width="1" height="52" fill="#c0c0c0"/>
<rect x="219" y="630" width="1" height="41" fill="#c0c0c0"/>
<rect x="227" y="630" width="1" height="36" fill="#c0c0c0"/>
<rect x="235" y="630" width="1" height="29" fill="#c0c0c0"/>
<rect x="243" y="630" width="1" height="23" fill="#c0c0c0"/>
<rect x="251" y="630" width="1" height="19" fill="#c0c0c0"/>
<rect x="259" y="630" width="1" height="17" fill="#c0c0c0"/>
<rect x="267" y="630" width="1" height="12" fill="#c0c0c0"/>
<rect x="275" y="630" width="1" height="9" fill="#c0c0c0"/>
<rect x="283" y="630" width="1" height="10" fill="#c0c0c0"/>
<rect x="291" y="630" width="1" height="10" fill="#c0c0c0"/>
<rect x="299" y="630" width="1" height="9" fill="#c0c0c0"/>
<rect x="307" y="630" width="1" height="10" fill="#c0c0c0"/>
<rect x="315" y="630" width="1" height="7" fill="#c0c0c0"/>
<rect x="323" y="630" width="1" height="3" fill="#c0c0c0"/>
<rect x="331" y="629" width="1" height="1" fill="#c0c0c0"/>
<rect x="339" y="630" width="1" height="4" fill="#c0c0c0"/>
<rect x="347" y="630" width="1" height="5" fill="#c0c0c0"/>
<rect x="355" y="630" width="1" height="4" fill="#c0c0c0"/>
<rect x="363" y="630" width="1" height="4" fill="#c0c0c0"/>
<rect x="371" y="630" width="1" height="4" fill="#c0c0c0"/>
<rect x="379" y="630" width="1" height="3" fill="#c0c0c0"/>
<rect x="387" y="630" width="1" height="3" fill="#c0c0c0"/>
<rect x="395" y="630" width="1" height="3" fill="#c0c0c0"/>
<rect x="403" y="630" width="1" height="3" fill="#c0c0c0"/>
<rect x="411" y="630" width="1" height="3" fill="#c0c0c0"/>
<rect x="419" y="630" width="1" height="2" fill="#c0c0c0"/>
<rect x="435" y="629" width="1" height="1" fill="#c0c0c0"/>
<rect x="443" y="629" width="1" height="1" fill="#c0c0c0"/>
<rect x="451" y="630" width="1" height="8" fill="#c0c0c0"/>
<rect x="459" y="630" width="1" height="14" fill="#c0c0c0"/>
<rect x="467" y="630" width="1" height="15" fill="#c0c0c0"/>
<rect x="475" y="630" width="1" height="19" fill="#c0c0c0"/>
<rect x="483" y="630" width="1" height="22" fill="#c0c0c0"/>
<rect x="491" y="630" width="1" height="25" fill="#c0c0c0"/>
<rect x="499" y="630" width="1" height="22" fill="#c0c0c0"/>
<rect x="507" y="630" width="1" height="17" fill="#c0c0c0"/>
<rect x="515" y="630" width="1" height="11" fill="#c0c0c0"/>
<rect x="523" y="630" width="1" height="5" fill="#c0c0c0"/>
<rect x="531" y="628" width="1" height="2" fill="#c0c0c0"/>
<rect x="539" y="623" width="1" height="7" fill="#c0c0c0"/>
<rect x="547" y="618" width="1" height="12" fill="#c0c0c0"/>
<rect x="555" y="613" width="1" height="17" fill="#c0c0c0"/>
<rect x="563" y="613" width="1" height="17" fill="#c0c0c0"/>
<rect x="571" y="615" width="1" height="15" fill="#c0c0c0"/>
<rect x="579" y="620" width="1" height="10" fill="#c0c0c0"/>
<rect x="587" y="620" width="1" height="10" fill="#c0c0c0"/>
<rect x="595" y="619" width="1" height="11" fill="#c0c0c0"/>
<rect x="603" y="619" width="1" height="11" fill="#c0c0c0"/>
<rect x="611" y="617" width="1" height="13" fill="#c0c0c0"/>
<rect x="619" y="618" width="1" height="12" fill="#c0c0c0"/>
<rect x="627" y="614" width="1" height="16" fill="#c0c0c0"/>
<rect x="635" y="614" width="1" height="16" fill="#c0c0c0"/>
<rect x="643" y="617" width="1" height="13" fill="#c0c0c0"/>
<rect x="651" y="621" width="1" height="9" fill="#c0c0c0"/>
<rect x="659" y="622" width="1" height="8" fill="#c0c0c0"/>
<rect x="667" y="617" width="1" height="13" fill="#c0c0c0"/>
<rect x="675" y="613" width="1" height="17" fill="#c0c0c0"/>
<rect x="683" y="603" width="1" height="27" fill="#c0c0c0"/>
<rect x="691" y="598" width="1" height="32" fill="#c0c0c0"/>
<rect x="699" y="594" width="1" height="36" fill="#c0c0c0"/>
<rect x="707" y="590" width="1" height="40" fill="#c0c0c0"/>
<rect x="715" y="591" width="1" height="39" fill="#c0c0c0"/>
<rect x="723" y="591" width="1" height="39" fill="#c0c0c0"/>
<rect x="731" y="594" width="1" height="36" fill="#c0c0c0"/>
<rect x="739" y="597" width="1" height="33" fill="#c0c0c0"/>
<rect x="747" y="603" width="1" height="27" fill="#c0c0c0"/>
<rect x="755" y="606" width="1" height="24" fill="#c0c0c0"/>
<rect x="763" y="610" width="1" height="20" fill="#c0c0c0"/>
<rect x="771" y="610" width="1" height="20" fill="#c0c0c0"/>
<rect x="779" y="613" width="1" height="17" fill="#c0c0c0"/>
<rect x="787" y="615" width="1" height="15" fill="#c0c0c0"/>
<rect x="795" y="620" width="1" height="10" fill="#c0c0c0"/>
<rect x="803" y="624" width="1" height="6" fill="#c0c0c0"/>
<rect x="811" y="627" width="1" height="3" fill="#c0c0c0"/>
<rect x="819" y="629" width="1" height="1" fill="#c0c0c0"/>
<rect x="835" y="630" width="1" height="4" fill="#c0c0c0"/>
<rect x="843" y="630" width="1" height="7" fill="#c0c0c0"/>
<rect x="851" y="630" width="1" height="6" fill="#c0c0c0"/>
<rect x="859" y="630" width="1" height="4" fill="#c0c0c0"/>
<rect x="867" y="630" width="1" height="5" fill="#c0c0c0"/>
<rect x="875" y="630" width="1" height="7" fill="#c0c0c0"/>
<rect x="883" y="630" width="1" height="9" fill="#c0c0c0"/>
<rect x="891" y="630" width="1" height="8" fill="#c0c0c0"/>
<rect x="899" y="630" width="1" height="4" fill="#c0c0c0"/>
<rect x="907" y="630" width="1" height="2" fill="#c0c0c0"/>
<rect x="923" y="628" width="1" height="2" fill="#c0c0c0"/>
<rect x="931" y="626" width="1" height="4" fill="#c0c0c0"/>
<rect x="939" y="626" width="1" height="4" fill="#c0c0c0"/>
<rect x="947" y="628" width="1" height="2" fill="#c0c0c0"/>
<rect x="955" y="629" width="1" height="1" fill="#c0c0c0"/>
<rect x="963" y="625" width="1" height="5" fill="#c0c0c0"/>
<rect x="971" y="623" width="1" height="7" fill="#c0c0c0"/>
<rect x="979" y="622" width="1" height="8" fill="#c0c0c0"/>
<rect x="987" y="623" width="1" height="7" fill="#c0c0c0"/>
<rect x="995" y="622" width="1" height="8" fill="#c0c0c0"/>
<rect x="1003" y="623" width="1" height="7" fill="#c0c0c0"/>
<rect x="1011" y="625" width="1" height="5" fill="#c0c0c0"/>
<rect x="1019" y="626" width="1" height="4" fill="#c0c0c0"/>
<rect x="1027" y="628" width="1" height="2" fill="#c0c0c0"/>
<rect x="1043" y="630" width="1" height="4" fill="#c0c0c0"/>
<rect x="1051" y="630" width="1" height="7" fill="#c0c0c0"/>
<rect x="1059" y="630" width="1" height="10" fill="#c0c0c0"/>
<rect x="1067" y="630" width="1" height="13" fill="#c0c0c0"/>
<rect x="1075" y="630" width="1" height="14" fill="#c0c0c0"/>
<rect x="1083" y="630" width="1" height="14" fill="#c0c0c0"/>
<rect x="1091" y="630" width="1" height="12" fill="#c0c0c0"/>
<rect x="1099" y="630" width="1" height="11" fill="#c0c0c0"/>
<rect x="1107" y="630" width="1" height="12" fill="#c0c0c0"/>
<rect x="1115" y="630" width="1" height="13" fill="#c0c0c0"/>
<rect x="1123" y="630" width="1" height="17" fill="#c0c0c0"/>
<rect x="1131" y="630" width="1" height="21" fill="#c0c0c0"/>
<rect x="1139" y="630" width="1" height="24" fill="#c0c0c0"/>
<rect x="1147" y="630" width="1" height="29" fill="#c0c0c0"/>
<rect x="1155" y="630" width="1" height="33" fill="#c0c0c0"/>
<rect x="1163" y="630" width="1" height="34" fill="#c0c0c0"/>
<rect x="1171" y="630" width="1" height="36" fill="#c0c0c0"/>
<rect x="1179" y="630" width="1" height="34" fill="#c0c0c0"/>
<rect x="1187" y="630" width="1" height="33" fill="#c0c0c0"/>
<rect x="1195" y="630" width="1" height="29" fill="#c0c0c0"/>
<rect x="1203" y="630" width="1" height="24" fill="#c0c0c0"/>
<rect x="1211" y="630" width="1" height="21" fill="#c0c0c0"/>
<rect x="1219" y="630" width="1" height="18" fill="#c0c0c0"/>
<rect x="1227" y="630" width="1" height="12" fill="#c0c0c0"/>
<rect x="1235" y="630" width="1" height="7" fill="#c0c0c0"/>
<rect x="1243" y="630" width="1" height="3" fill="#c0c0c0"/>
<rect x="1251" y="630" width="1" height="4" fill="#c0c0c0"/>
<rect x="1259" y="630" width="1" height="2" fill="#c0c0c0"/>
<rect x="1267" y="630" width="1" height="2" fill="#c0c0c0"/>
<rect x="1275" y="628" width="1" height="2" fill="#c0c0c0"/>
<rect x="1283" y="626" width="1" height="4" fill="#c0c0c0"/>
<rect x="1291" y="623" width="1" height="7" fill="#c0c0c0"/>
<rect x="1299" y="621" width="1" height="9" fill="#c0c0c0"/>
<rect x="1307" y="621" width="1" height="9" fill="#c0c0c0"/>
<rect x="1315" y="621" width="1" height="9" fill="#c0c0c0"/>
<rect x="1323" y="623" width="1" height="7" fill="#c0c0c0"/>
<rect x="1331" y="625" width="1" height="5" fill="#c0c0c0"/>
<rect x="1339" y="625" width="1" height="5" fill="#c0c0c0"/>
<rect x="1347" y="621" width="1" height="9" fill="#c0c0c0"/>
<rect x="1355" y="620" width="1" height="10" fill="#c0c0c0"/>
<rect x="1363" y="615" width="1" height="15" fill="#c0c0c0"/>
<rect x="1371" y="609" width="1" height="21" fill="#c0c0c0"/>
<rect x="1379" y="603" width="1" height="27" fill="#c0c0c0"/>
<rect x="1387" y="597" width="1" height="33" fill="#c0c0c0"/>
<rect x="1395" y="593" width="1" height="37" fill="#c0c0c0"/>
<rect x="1403" y="592" width="1" height="38" fill="#c0c0c0"/>
<rect x="1411" y="590" width="1" height="40" fill="#c0c0c0"/>
<rect x="1419" y="588" width="1" height="42" fill="#c0c0c0"/>
<rect x="1427" y="587" width="1" height="43" fill="#c0c0c0"/>
<rect x="1435" y="586" width="1" height="44" fill="#c0c0c0"/>
<rect x="1443" y="587" width="1" height="43" fill="#c0c0c0"/>
<rect x="1451" y="587" width="1" height="43" fill="#c0c0c0"/>
<rect x="1459" y="588" width="1" height="42" fill="#c0c0c0"/>
<polyline points="-4.5,640.5 3.5,641.9 11.5,645.1 19.5,647.6 27.5,650.1 35.5,652.1 43.5,654.0 51.5,656.8 59.5,659.6 67.5,662.4 75.5,665.6 83.5,669.8 91.5,674.1 99.5,680.1 107.5,687.5 115.5,695.9 123.5,703.6 131.5,711.2 139.5,717.4 147.5,721.7 155.5,724.1 163.5,725.3 171.5,725.1 179.5,722.5 187.5,718.2 195.5,714.2 203.5,707.9 211.5,702.3 219.5,697.1 227.5,691.2 235.5,684.8 243.5,677.6 251.5,672.0 259.5,666.4 267.5,660.6 275.5,656.3 283.5,651.8 291.5,648.0 299.5,644.6 307.5,642.2 315.5,640.9 323.5,639.5 331.5,637.1 339.5,636.0 347.5,635.1 355.5,634.6 363.5,634.1 371.5,633.6 379.5,633.1 387.5,632.8 395.5,632.6 403.5,632.6 411.5,632.6 419.5,632.6 427.5,632.4 435.5,631.6 443.5,630.0 451.5,631.5 459.5,633.1 467.5,635.6 475.5,636.9 483.5,639.4 491.5,640.7 499.5,643.7 507.5,645.5 515.5,646.6 523.5,646.4 531.5,643.9 539.5,641.4 547.5,638.2 555.5,633.6 563.5,628.9 571.5,625.6 579.5,622.7 587.5,621.0 595.5,618.6 603.5,617.6 611.5,616.4 619.5,616.3 627.5,616.3 635.5,617.4 643.5,617.6 651.5,617.7 659.5,617.5 667.5,617.3 675.5,616.3 683.5,615.0 691.5,613.4 699.5,610.4 707.5,607.1 715.5,604.5 723.5,601.5 731.5,598.3 739.5,596.2 747.5,595.3 755.5,595.2 763.5,596.2 771.5,598.6 779.5,601.4 787.5,603.8 795.5,606.3 803.5,610.3 811.5,613.3 819.5,615.9 827.5,619.7 835.5,622.2 843.5,624.6 851.5,626.8 859.5,629.4 867.5,632.3 875.5,633.5 883.5,634.8 891.5,635.5 899.5,635.5 907.5,635.5 915.5,634.6 923.5,632.9 931.5,632.3 939.5,631.6 947.5,630.0 955.5,629.2 963.5,628.3 971.5,627.0 979.5,625.7 987.5,624.5 995.5,624.0 1003.5,623.3 1011.5,623.3 1019.5,623.3 1027.5,623.3 1035.5,623.8 1043.5,625.4 1051.5,627.7 1059.5,629.6 1067.5,630.6 1075.5,633.5 1083.5,635.6 1091.5,636.9 1099.5,639.8 1107.5,640.6 1115.5,641.6 1123.5,642.3 1131.5,643.2 1139.5,644.5 1147.5,646.7 1155.5,648.9 1163.5,651.4 1171.5,654.0 1179.5,656.9 1187.5,658.4 1195.5,659.6 1203.5,660.3 1211.5,659.2 1219.5,658.2 1227.5,656.6 1235.5,653.1 1243.5,649.8 1251.5,646.7 1259.5,642.9 1267.5,639.6 1275.5,636.5 1283.5,633.3 1291.5,631.2 1299.5,628.6 1307.5,626.6 1315.5,624.7 1323.5,624.0 1331.5,623.4 1339.5,623.0 1347.5,622.5 1355.5,621.5 1363.5,620.4 1371.5,619.0 1379.5,617.5 1387.5,613.9 1395.5,610.2 1403.5,606.2 1411.5,602.2 1419.5,598.7 1427.5,595.3 1435.5,592.7 1443.5,590.2 1451.5,589.2 1459.5,588.3" fill="none" stroke="#ff0000" stroke-width="1" stroke-dasharray="3 3"/>
</g>
<text x="1689" y="587" font-size="9.9" fill="#000" textLength="28" lengthAdjust="spacingAndGlyphs" stroke="#000" stroke-width="0.12" text-rendering="geometricPrecision">643.23</text>
<text x="1689" y="634" font-size="9.9" fill="#000" textLength="18" lengthAdjust="spacingAndGlyphs" stroke="#000" stroke-width="0.12" text-rendering="geometricPrecision">0.00</text>
<text x="1689" y="743" font-size="9.9" fill="#000" textLength="37" lengthAdjust="spacingAndGlyphs" stroke="#000" stroke-width="0.12" text-rendering="geometricPrecision">-1417.44</text>
<rect x="1686" y="578" width="2" height="1" fill="#000" shape-rendering="crispEdges"/>
<rect x="1686" y="630" width="2" height="1" fill="#000" shape-rendering="crispEdges"/>
<text x="-0.5" y="761" font-size="9.9" fill="#000" textLength="67" lengthAdjust="spacingAndGlyphs" stroke="#000" stroke-width="0.12" text-rendering="geometricPrecision">RSI(14) 68.5303</text>
<g shape-rendering="crispEdges">
<line x1="2" y1="784.5" x2="1685" y2="784.5" stroke="#c0c0c0" stroke-width="1" stroke-dasharray="3 3"/>
<line x1="2" y1="835.5" x2="1685" y2="835.5" stroke="#c0c0c0" stroke-width="1" stroke-dasharray="3 3"/>
<line x1="2" y1="896.5" x2="1685" y2="896.5" stroke="#c0c0c0" stroke-width="1" stroke-dasharray="3 3"/>
<polyline points="-1.0,860.0 3.5,861.8 11.5,858.7 19.5,857.2 27.5,860.5 35.5,843.5 43.5,858.0 51.5,872.7 59.5,858.5 67.5,861.8 75.5,873.2 83.5,874.5 91.5,883.4 99.5,877.5 107.5,883.4 115.5,884.7 123.5,861.3 131.5,873.2 139.5,855.4 147.5,846.0 155.5,849.6 163.5,846.0 171.5,850.4 179.5,842.2 187.5,849.6 195.5,845.3 203.5,846.5 211.5,839.4 219.5,831.3 227.5,839.4 235.5,834.3 243.5,831.3 251.5,836.4 259.5,837.7 267.5,832.6 275.5,833.3 283.5,840.2 291.5,838.4 299.5,837.1 307.5,841.5 315.5,833.3 323.5,827.0 331.5,829.3 339.5,846.5 347.5,840.2 355.5,835.6 363.5,838.9 371.5,834.6 379.5,828.3 387.5,834.3 395.5,835.1 403.5,842.7 411.5,842.7 419.5,837.7 427.5,830.0 435.5,828.3 443.5,833.8 451.5,856.2 459.5,852.9 467.5,844.5 475.5,849.1 483.5,850.4 491.5,852.4 499.5,839.4 507.5,831.3 515.5,826.2 523.5,825.2 531.5,819.4 539.5,819.1 547.5,817.3 555.5,814.3 563.5,829.3 571.5,832.6 579.5,842.0 587.5,830.8 595.5,829.3 603.5,830.3 611.5,825.5 619.5,829.3 627.5,820.4 635.5,830.0 643.5,833.8 651.5,839.2 659.5,835.1 667.5,819.1 675.5,817.3 683.5,804.1 691.5,812.2 699.5,811.0 707.5,809.2 715.5,821.4 723.5,820.4 731.5,824.9 739.5,826.2 747.5,838.2 755.5,833.3 763.5,836.4 771.5,825.5 779.5,835.1 787.5,832.1 795.5,843.2 803.5,844.5 811.5,841.5 819.5,839.4 827.5,843.2 835.5,845.5 843.5,848.6 851.5,835.6 859.5,832.1 867.5,837.7 875.5,847.1 883.5,846.0 891.5,833.8 899.5,827.0 907.5,830.0 915.5,831.3 923.5,826.7 931.5,825.2 939.5,831.3 947.5,843.2 955.5,833.8 963.5,823.2 971.5,825.2 979.5,825.2 987.5,834.3 995.5,828.3 1003.5,836.4 1011.5,836.4 1019.5,836.4 1027.5,840.2 1035.5,847.1 1043.5,851.1 1051.5,852.4 1059.5,854.2 1067.5,859.2 1075.5,849.6 1083.5,846.0 1091.5,838.2 1099.5,839.4 1107.5,851.1 1115.5,846.5 1123.5,861.0 1131.5,866.4 1139.5,864.3 1147.5,872.0 1155.5,874.5 1163.5,863.1 1171.5,866.4 1179.5,859.2 1187.5,847.1 1195.5,841.5 1203.5,834.3 1211.5,836.4 1219.5,838.4 1227.5,820.4 1235.5,820.4 1243.5,823.7 1251.5,840.2 1259.5,831.8 1267.5,827.0 1275.5,828.3 1283.5,824.2 1291.5,819.4 1299.5,817.3 1307.5,826.4 1315.5,830.0 1323.5,833.7 1331.5,844.5 1339.5,837.7 1347.5,819.1 1355.5,822.4 1363.5,805.0 1371.5,808.2 1379.5,803.4 1387.5,798.1 1395.5,802.2 1403.5,803.4 1411.5,804.2 1419.5,801.4 1427.5,800.2 1435.5,798.1 1443.5,807.4 1451.5,804.2 1459.5,804.2" fill="none" stroke="#1e90ff" stroke-width="1"/>
</g>
<text x="1689" y="760" font-size="9.9" fill="#000" textLength="15" lengthAdjust="spacingAndGlyphs" stroke="#000" stroke-width="0.12" text-rendering="geometricPrecision">100</text>
<text x="1689" y="788" font-size="9.9" fill="#000" textLength="10" lengthAdjust="spacingAndGlyphs" stroke="#000" stroke-width="0.12" text-rendering="geometricPrecision">80</text>
<text x="1689" y="839" font-size="9.9" fill="#000" textLength="10" lengthAdjust="spacingAndGlyphs" stroke="#000" stroke-width="0.12" text-rendering="geometricPrecision">50</text>
<text x="1689" y="900" font-size="9.9" fill="#000" textLength="10" lengthAdjust="spacingAndGlyphs" stroke="#000" stroke-width="0.12" text-rendering="geometricPrecision">15</text>
<text x="1689" y="919" font-size="9.9" fill="#000" textLength="5" lengthAdjust="spacingAndGlyphs" stroke="#000" stroke-width="0.12" text-rendering="geometricPrecision">0</text>
<g clip-path="url(#cpAxis)">
<rect x="-5" y="923" width="1" height="3" fill="#000" shape-rendering="crispEdges"/>
<text x="-5.5" y="935" font-size="9.9" fill="#000" textLength="51.2" lengthAdjust="spacingAndGlyphs" stroke="#000" stroke-width="0.12" text-rendering="geometricPrecision">27 Feb 2020</text>
<rect x="59" y="923" width="1" height="3" fill="#000" shape-rendering="crispEdges"/>
<text x="58.5" y="935" font-size="9.9" fill="#000" textLength="51.2" lengthAdjust="spacingAndGlyphs" stroke="#000" stroke-width="0.12" text-rendering="geometricPrecision">10 Mar 2020</text>
<rect x="123" y="923" width="1" height="3" fill="#000" shape-rendering="crispEdges"/>
<text x="122.5" y="935" font-size="9.9" fill="#000" textLength="51.2" lengthAdjust="spacingAndGlyphs" stroke="#000" stroke-width="0.12" text-rendering="geometricPrecision">20 Mar 2020</text>
<rect x="187" y="923" width="1" height="3" fill="#000" shape-rendering="crispEdges"/>
<text x="186.5" y="935" font-size="9.9" fill="#000" textLength="44.1" lengthAdjust="spacingAndGlyphs" stroke="#000" stroke-width="0.12" text-rendering="geometricPrecision">1 Apr 2020</text>
<rect x="251" y="923" width="1" height="3" fill="#000" shape-rendering="crispEdges"/>
<text x="250.5" y="935" font-size="9.9" fill="#000" textLength="49.2" lengthAdjust="spacingAndGlyphs" stroke="#000" stroke-width="0.12" text-rendering="geometricPrecision">15 Apr 2020</text>
<rect x="315" y="923" width="1" height="3" fill="#000" shape-rendering="crispEdges"/>
<text x="314.5" y="935" font-size="9.9" fill="#000" textLength="49.2" lengthAdjust="spacingAndGlyphs" stroke="#000" stroke-width="0.12" text-rendering="geometricPrecision">27 Apr 2020</text>
<rect x="379" y="923" width="1" height="3" fill="#000" shape-rendering="crispEdges"/>
<text x="378.5" y="935" font-size="9.9" fill="#000" textLength="52.0" lengthAdjust="spacingAndGlyphs" stroke="#000" stroke-width="0.12" text-rendering="geometricPrecision">11 May 2020</text>
<rect x="443" y="923" width="1" height="3" fill="#000" shape-rendering="crispEdges"/>
<text x="442.5" y="935" font-size="9.9" fill="#000" textLength="52.7" lengthAdjust="spacingAndGlyphs" stroke="#000" stroke-width="0.12" text-rendering="geometricPrecision">21 May 2020</text>
<rect x="507" y="923" width="1" height="3" fill="#000" shape-rendering="crispEdges"/>
<text x="506.5" y="935" font-size="9.9" fill="#000" textLength="45.1" lengthAdjust="spacingAndGlyphs" stroke="#000" stroke-width="0.12" text-rendering="geometricPrecision">2 Jun 2020</text>
<rect x="571" y="923" width="1" height="3" fill="#000" shape-rendering="crispEdges"/>
<text x="570.5" y="935" font-size="9.9" fill="#000" textLength="50.2" lengthAdjust="spacingAndGlyphs" stroke="#000" stroke-width="0.12" text-rendering="geometricPrecision">12 Jun 2020</text>
<rect x="635" y="923" width="1" height="3" fill="#000" shape-rendering="crispEdges"/>
<text x="634.5" y="935" font-size="9.9" fill="#000" textLength="50.2" lengthAdjust="spacingAndGlyphs" stroke="#000" stroke-width="0.12" text-rendering="geometricPrecision">24 Jun 2020</text>
<rect x="699" y="923" width="1" height="3" fill="#000" shape-rendering="crispEdges"/>
<text x="698.5" y="935" font-size="9.9" fill="#000" textLength="42.1" lengthAdjust="spacingAndGlyphs" stroke="#000" stroke-width="0.12" text-rendering="geometricPrecision">8 Jul 2020</text>
<rect x="763" y="923" width="1" height="3" fill="#000" shape-rendering="crispEdges"/>
<text x="762.5" y="935" font-size="9.9" fill="#000" textLength="47.2" lengthAdjust="spacingAndGlyphs" stroke="#000" stroke-width="0.12" text-rendering="geometricPrecision">20 Jul 2020</text>
<rect x="827" y="923" width="1" height="3" fill="#000" shape-rendering="crispEdges"/>
<text x="826.5" y="935" font-size="9.9" fill="#000" textLength="47.2" lengthAdjust="spacingAndGlyphs" stroke="#000" stroke-width="0.12" text-rendering="geometricPrecision">30 Jul 2020</text>
<rect x="891" y="923" width="1" height="3" fill="#000" shape-rendering="crispEdges"/>
<text x="890.5" y="935" font-size="9.9" fill="#000" textLength="50.5" lengthAdjust="spacingAndGlyphs" stroke="#000" stroke-width="0.12" text-rendering="geometricPrecision">11 Aug 2020</text>
<rect x="955" y="923" width="1" height="3" fill="#000" shape-rendering="crispEdges"/>
<text x="954.5" y="935" font-size="9.9" fill="#000" textLength="51.2" lengthAdjust="spacingAndGlyphs" stroke="#000" stroke-width="0.12" text-rendering="geometricPrecision">21 Aug 2020</text>
<rect x="1019" y="923" width="1" height="3" fill="#000" shape-rendering="crispEdges"/>
<text x="1018.5" y="935" font-size="9.9" fill="#000" textLength="46.7" lengthAdjust="spacingAndGlyphs" stroke="#000" stroke-width="0.12" text-rendering="geometricPrecision">2 Sep 2020</text>
<rect x="1083" y="923" width="1" height="3" fill="#000" shape-rendering="crispEdges"/>
<text x="1082.5" y="935" font-size="9.9" fill="#000" textLength="51.7" lengthAdjust="spacingAndGlyphs" stroke="#000" stroke-width="0.12" text-rendering="geometricPrecision">14 Sep 2020</text>
<rect x="1147" y="923" width="1" height="3" fill="#000" shape-rendering="crispEdges"/>
<text x="1146.5" y="935" font-size="9.9" fill="#000" textLength="51.7" lengthAdjust="spacingAndGlyphs" stroke="#000" stroke-width="0.12" text-rendering="geometricPrecision">24 Sep 2020</text>
<rect x="1211" y="923" width="1" height="3" fill="#000" shape-rendering="crispEdges"/>
<text x="1210.5" y="935" font-size="9.9" fill="#000" textLength="44.6" lengthAdjust="spacingAndGlyphs" stroke="#000" stroke-width="0.12" text-rendering="geometricPrecision">8 Oct 2020</text>
<rect x="1275" y="923" width="1" height="3" fill="#000" shape-rendering="crispEdges"/>
<text x="1274.5" y="935" font-size="9.9" fill="#000" textLength="49.7" lengthAdjust="spacingAndGlyphs" stroke="#000" stroke-width="0.12" text-rendering="geometricPrecision">20 Oct 2020</text>
<rect x="1339" y="923" width="1" height="3" fill="#000" shape-rendering="crispEdges"/>
<text x="1338.5" y="935" font-size="9.9" fill="#000" textLength="46.6" lengthAdjust="spacingAndGlyphs" stroke="#000" stroke-width="0.12" text-rendering="geometricPrecision">2 Nov 2020</text>
<rect x="1403" y="923" width="1" height="3" fill="#000" shape-rendering="crispEdges"/>
<text x="1402.5" y="935" font-size="9.9" fill="#000" textLength="51.7" lengthAdjust="spacingAndGlyphs" stroke="#000" stroke-width="0.12" text-rendering="geometricPrecision">12 Nov 2020</text>
</g>
</svg>
<svg width="1732" height="20" viewBox="0 0 1732 20" style="position:absolute;left:0;top:0" font-family='"Liberation Sans", sans-serif'>
<defs><linearGradient id="tbb" x1="0" y1="0" x2="0" y2="1"><stop offset="0" stop-color="#f0f0f0"/><stop offset="0.4" stop-color="#c0c0c0"/><stop offset="1" stop-color="#747474"/></linearGradient>
<radialGradient id="lens" cx="0.4" cy="0.35" r="0.7"><stop offset="0" stop-color="#ffffff"/><stop offset="1" stop-color="#b8d4f0"/></radialGradient>
<linearGradient id="gold" x1="0" y1="0" x2="1" y2="1"><stop offset="0" stop-color="#ffe27a"/><stop offset="1" stop-color="#c8860a"/></linearGradient>
<linearGradient id="cloud" x1="0" y1="0" x2="0" y2="1"><stop offset="0" stop-color="#ffffff"/><stop offset="1" stop-color="#a8c0e8"/></linearGradient>
<linearGradient id="clock" x1="0" y1="0" x2="0" y2="1"><stop offset="0" stop-color="#5aa0f0"/><stop offset="1" stop-color="#1450b0"/></linearGradient>
</defs>
<rect x="0" y="0" width="1732" height="17" fill="#f0f0f0"/>
<rect x="0" y="16.6" width="1732" height="2.3" fill="url(#tbb)"/>
<rect x="0" y="18.9" width="1732" height="1.1" fill="#fff"/>
<rect x="322" y="0" width="23" height="14" fill="#f8f8f8"/>
<rect x="472" y="0" width="23" height="14" fill="#f8f8f8"/>
<rect x="661" y="0" width="25" height="14" fill="#f8f8f8"/>
<rect x="1135" y="0" width="24" height="14" fill="#f8f8f8"/>
<rect x="46" y="0" width="1" height="14.5" fill="#a8a8a8"/>
<rect x="284" y="0" width="1" height="14.5" fill="#a8a8a8"/>
<rect x="320" y="0" width="1" height="14.5" fill="#a8a8a8"/>
<rect x="377" y="0" width="1" height="14.5" fill="#a8a8a8"/>
<rect x="467" y="0" width="1" height="14.5" fill="#a8a8a8"/>
<rect x="500" y="0" width="1" height="14.5" fill="#a8a8a8"/>
<rect x="529" y="0" width="1" height="14.5" fill="#a8a8a8"/>
<rect x="650" y="0" width="1" height="14.5" fill="#a8a8a8"/>
<rect x="717" y="0" width="1" height="14.5" fill="#a8a8a8"/>
<rect x="956" y="0" width="1" height="14.5" fill="#a8a8a8"/>
<rect x="1134" y="0" width="1" height="14.5" fill="#a8a8a8"/>
<rect x="1217" y="0" width="1" height="14.5" fill="#a8a8a8"/>
<rect x="286" y="0" width="3" height="1" fill="#b4b4b4"/>
<rect x="286" y="2" width="3" height="1" fill="#b4b4b4"/>
<rect x="286" y="4" width="3" height="1" fill="#b4b4b4"/>
<rect x="286" y="6" width="3" height="1" fill="#b4b4b4"/>
<rect x="286" y="8" width="3" height="1" fill="#b4b4b4"/>
<rect x="286" y="10" width="3" height="1" fill="#b4b4b4"/>
<rect x="286" y="12" width="3" height="1" fill="#b4b4b4"/>
<rect x="653.5" y="0" width="3" height="1" fill="#b4b4b4"/>
<rect x="653.5" y="2" width="3" height="1" fill="#b4b4b4"/>
<rect x="653.5" y="4" width="3" height="1" fill="#b4b4b4"/>
<rect x="653.5" y="6" width="3" height="1" fill="#b4b4b4"/>
<rect x="653.5" y="8" width="3" height="1" fill="#b4b4b4"/>
<rect x="653.5" y="10" width="3" height="1" fill="#b4b4b4"/>
<rect x="653.5" y="12" width="3" height="1" fill="#b4b4b4"/>
<rect x="960" y="0" width="3" height="1" fill="#b4b4b4"/>
<rect x="960" y="2" width="3" height="1" fill="#b4b4b4"/>
<rect x="960" y="4" width="3" height="1" fill="#b4b4b4"/>
<rect x="960" y="6" width="3" height="1" fill="#b4b4b4"/>
<rect x="960" y="8" width="3" height="1" fill="#b4b4b4"/>
<rect x="960" y="10" width="3" height="1" fill="#b4b4b4"/>
<rect x="960" y="12" width="3" height="1" fill="#b4b4b4"/>
<rect x="-4" y="-4" width="12" height="15.5" fill="#fff" stroke="#4a78c8" stroke-width="1"/>
<rect x="0" y="1" width="7" height="1" fill="#c4d4f4"/>
<rect x="0" y="3" width="7" height="1" fill="#c4d4f4"/>
<rect x="0" y="5" width="7" height="1" fill="#c4d4f4"/>
<rect x="0" y="7" width="7" height="1" fill="#c4d4f4"/>
<rect x="0" y="14" width="1" height="1.2" fill="#000"/>
<rect x="22.5" y="-4" width="11" height="14" fill="#fafafa" stroke="#b0b0b0" stroke-width="0.8"/>
<line x1="33" y1="9" x2="37.5" y2="13.5" stroke="#d4a020" stroke-width="2.4" stroke-linecap="round"/>
<circle cx="29.3" cy="5" r="4.8" fill="url(#lens)" stroke="#6a96dc" stroke-width="1.2" fill-opacity="0.9"/>
<rect x="27.5" y="2" width="2" height="5" fill="#9ab0c8" opacity="0.7"/>
<path d="M57,-4 h8 l3,3 v11 h-11 z" fill="#fff" stroke="#909090" stroke-width="1"/>
<rect x="59" y="3" width="6" height="1" fill="#808080"/>
<rect x="59" y="5.5" width="6" height="1" fill="#808080"/>
<path d="M64.5,4 h3.4 v3.3 h3.3 v3.4 h-3.3 v3.3 h-3.4 v-3.3 h-3.3 v-3.4 h3.3 z" fill="#22c022" stroke="#0a8a0a" stroke-width="0.6"/>
<text x="74.8" y="7.7" font-size="12" fill="#000" style='font-family:"Liberation Sans", "Noto Sans CJK SC", sans-serif;'>新订单</text>
<path d="M123,7.6 L131.3,13.4 L139.2,7 L139,5.6 L131.3,11.8 L123,6 Z" fill="#9a6404"/>
<path d="M123,6.4 L128.2,-1 L134.5,-1 L139,6 L131.3,12.2 Z" fill="url(#gold)" stroke="#b88410" stroke-width="0.6"/>
<path d="M124.5,6.3 L129,0 L132,0 L127.5,7.5 Z" fill="#fff4a0" opacity="0.6"/>
<rect x="153.8" y="-3" width="10" height="10" fill="#2a9af2"/>
<rect x="155.8" y="-3" width="1.6" height="7.5" fill="#e8f4ff"/>
<rect x="158.5" y="0.3" width="4.3" height="0.9" fill="#d8ecff"/><rect x="158.5" y="2.2" width="4.3" height="0.9" fill="#d8ecff"/>
<path d="M154.2,12.4 a2.9,2.9 0 0 1 -0.2,-5.6 a3.6,3.6 0 0 1 6.6,-0.9 a3.1,3.1 0 0 1 4.6,2 a2.4,2.4 0 0 1 -0.4,4.5 z" fill="url(#cloud)" stroke="#6484c0" stroke-width="0.8"/>
<path d="M186.7,12.0 A7.4,7.4 0 1 1 190.40,-1.81" fill="none" stroke="#7c9ce4" stroke-width="1.1" opacity="0.45"/>
<path d="M186.7,9.8 A5.2,5.2 0 1 1 189.30,0.10" fill="none" stroke="#5a80dc" stroke-width="1.1" opacity="0.7"/>
<path d="M186.7,7.699999999999999 A3.1,3.1 0 1 1 188.25,1.92" fill="none" stroke="#3c64d0" stroke-width="1.1" opacity="0.9"/>
<path d="M190.40,-1.81 A7.4,7.4 0 0 1 186.7,12.0" fill="none" stroke="#58a858" stroke-width="1.5" opacity="0.55"/>
<path d="M189.30,0.10 A5.2,5.2 0 0 1 186.7,9.8" fill="none" stroke="#58a858" stroke-width="1.5" opacity="0.6"/>
<path d="M188.25,1.92 A3.1,3.1 0 0 1 186.7,7.699999999999999" fill="none" stroke="#58a858" stroke-width="1.5" opacity="0.6"/>
<path d="M186.7,4.6 L190.4,-1.8 A7.4,7.4 0 0 1 186.7,12 Z" fill="#a8d0a8" opacity="0.45"/>
<rect x="186.9" y="5" width="1.3" height="7.4" fill="#1ea01e"/>
<circle cx="186.7" cy="4.6" r="1.6" fill="#2858d0"/>
<path d="M207,4.2 L221.4,4.2 L216.8,9.5 L216,12.8 L212.6,11.6 L212.4,9.6 Z" fill="#f6d648" stroke="#c8a018" stroke-width="0.6"/>
<ellipse cx="213.8" cy="1" rx="7.5" ry="3.4" fill="#4aa4e6" stroke="#2c7cc8" stroke-width="0.6"/>
<ellipse cx="213.8" cy="-0.2" rx="4.5" ry="1.6" fill="#a8d8f8"/>
<circle cx="218.6" cy="8.7" r="3.8" fill="#d81c10"/>
<rect x="217.3" y="7.4" width="2.6" height="2.6" fill="#fff"/>
<text x="227.3" y="7.7" font-size="12" fill="#000" style='font-family:"Liberation Sans", "Noto Sans CJK SC", sans-serif;'>自动交易</text>
<path d="M300.5,-2 V13 M298,10.5 H312" stroke="#505050" stroke-width="1.1" fill="none"/>
<path d="M310.5,9 L312.5,10.5 L310.5,12 Z" fill="#505050"/>
<path d="M306.5,-2 V9 M306.5,1 H309 M304.5,7 H306.5" stroke="#1a9a1a" stroke-width="1.3" fill="none"/>
<path d="M328.5,-2 V13 M326,10.5 H340" stroke="#505050" stroke-width="1.1" fill="none"/>
<path d="M338.5,9 L340.5,10.5 L338.5,12 Z" fill="#505050"/>
<rect x="332.5" y="-3" width="4" height="9" fill="#28b428" stroke="#0a7a0a" stroke-width="0.7"/><rect x="334" y="6" width="1" height="3" fill="#0a7a0a"/>
<path d="M356.5,-2 V13 M354,10.5 H368" stroke="#505050" stroke-width="1.1" fill="none"/>
<path d="M366.5,9 L368.5,10.5 L366.5,12 Z" fill="#505050"/>
<path d="M357,9 C359,2 362,0 364,1 C366,2 367,4 369,6" stroke="#1a9a1a" stroke-width="1.2" fill="none"/>
<line x1="394" y1="5" x2="400" y2="11.5" stroke="#d8a820" stroke-width="2.6" stroke-linecap="round"/>
<circle cx="391" cy="2" r="5.2" fill="#d8e8fc" stroke="#5a8ad8" stroke-width="1.3"/>
<rect x="388" y="1.3" width="6" height="1.5" fill="#3a6ac8"/>
<rect x="390.25" y="-1" width="1.5" height="6" fill="#3a6ac8"/>
<line x1="422" y1="5" x2="428" y2="11.5" stroke="#d8a820" stroke-width="2.6" stroke-linecap="round"/>
<circle cx="419" cy="2" r="5.2" fill="#d8e8fc" stroke="#5a8ad8" stroke-width="1.3"/>
<rect x="416" y="1.3" width="6" height="1.5" fill="#3a6ac8"/>
<rect x="442" y="-3" width="7.5" height="7" fill="#58b038"/><rect x="450.5" y="-3" width="7.5" height="7" fill="#3c78e0"/>
<rect x="442" y="5" width="7.5" height="7.5" fill="#3c78e0"/><rect x="450.5" y="5" width="7.5" height="7.5" fill="#58b038"/>
<rect x="443.5" y="0.5" width="4.5" height="2" fill="#fff"/>
<rect x="452" y="0.5" width="4.5" height="2" fill="#fff"/>
<rect x="443.5" y="8.5" width="4.5" height="2" fill="#fff"/>
<rect x="452" y="8.5" width="4.5" height="2" fill="#fff"/>
<path d="M479.5,-2 V13 M477,10.5 H491" stroke="#505050" stroke-width="1.1" fill="none"/>
<path d="M489.5,9 L491.5,10.5 L489.5,12 Z" fill="#505050"/>
<path d="M484.5,1 L489.5,4.5 L484.5,8 Z" fill="#28b428"/>
<path d="M508.5,-2 V13 M506,10.5 H520" stroke="#505050" stroke-width="1.1" fill="none"/>
<path d="M518.5,9 L520.5,10.5 L518.5,12 Z" fill="#505050"/>
<rect x="514" y="-2" width="1" height="11" fill="#505050"/><path d="M520,4 H516 M518,2 L515.5,4 L518,6" stroke="#d03010" stroke-width="1.1" fill="none"/>
<path d="M539,-4 h8 l3,3 v8 h-11 z" fill="#fff" stroke="#909090" stroke-width="1"/>
<path d="M546.5,2 h4 v3.5 h3.5 v4 h-3.5 v3.5 h-4 v-3.5 h-3.5 v-4 h3.5 z" fill="#22c022" stroke="#0a8a0a" stroke-width="0.6"/>
<path d="M561,4 h5.5 l-2.75,3 z" fill="#000"/>
<path d="M600,4 h5.5 l-2.75,3 z" fill="#000"/>
<path d="M639,4 h5.5 l-2.75,3 z" fill="#000"/>
<path d="M945,4 h5.5 l-2.75,3 z" fill="#000"/>
<circle cx="585" cy="4" r="7.8" fill="url(#clock)"/><circle cx="585" cy="4" r="5.4" fill="#f4f8ff"/>
<path d="M585,0 V4.5 H588" stroke="#303030" stroke-width="1" fill="none"/>
<rect x="616.5" y="-4" width="15.5" height="15" fill="#fff" stroke="#3c6cd0" stroke-width="1.4"/>
<path d="M618,3 l3,-1.5 l3,1 l3,-2 l3,0.5" stroke="#c03020" stroke-width="1.1" fill="none"/>
<path d="M618,8.5 l3,-1.5 l3,1 l3,-2 l3,1.5" stroke="#20a020" stroke-width="1.1" fill="none"/>
<path d="M667.5,-2 V10 L670.3,7.5 L672.3,12 L674,11.2 L672,6.8 L676,6.5 Z" fill="#404040"/>
<path d="M700.5,-2 V13 M693,5.5 H708" stroke="#404040" stroke-width="1" fill="none"/><rect x="699" y="4" width="3" height="3" fill="#f0f0f0"/>
<rect x="734" y="-2" width="1" height="14" fill="#404040"/>
<rect x="756.5" y="5" width="12.5" height="1" fill="#404040"/>
<line x1="784.7" y1="12" x2="797.5" y2="0" stroke="#505050" stroke-width="1"/>
<path d="M811,6 L824,-2 M813,11 L826,3 M815,1 L813,11 M820,-1 L818,9 M825,-3 L823,6" stroke="#505050" stroke-width="0.9" fill="none"/>
<text x="823.5" y="14" font-size="6.5" font-weight="bold" fill="#404040">E</text>
<line x1="839" y1="0.5" x2="852" y2="0.5" stroke="#505050" stroke-width="0.9" stroke-dasharray="1 1"/>
<line x1="839" y1="3.5" x2="852" y2="3.5" stroke="#505050" stroke-width="0.9" stroke-dasharray="1 1"/>
<line x1="839" y1="6.5" x2="852" y2="6.5" stroke="#505050" stroke-width="0.9" stroke-dasharray="1 1"/>
<line x1="839" y1="9.5" x2="852" y2="9.5" stroke="#505050" stroke-width="0.9" stroke-dasharray="1 1"/>
<text x="851.5" y="14" font-size="6.5" font-weight="bold" fill="#404040">F</text>
<text x="869.5" y="9.5" font-size="12" font-weight="bold" fill="#707070">A</text>
<rect x="897.5" y="-1.5" width="11" height="12" fill="none" stroke="#606060" stroke-width="0.8" stroke-dasharray="1 1"/>
<text x="899.6" y="9.3" font-size="11" font-weight="bold" fill="#707070">T</text>
<path d="M925,2 l3,-3 l3,3 l-3,3 z M931,7 l3.5,-3.5 l3.5,3.5 l-3.5,3.5 z" fill="#404040"/><path d="M926,-1 l2,2 M929,6 l2,2" stroke="#404040" stroke-width="1"/>
<text x="971.7" y="9" font-size="9.6" fill="#505050" textLength="12.3" lengthAdjust="spacingAndGlyphs">M1</text>
<text x="999.7" y="9" font-size="9.6" fill="#505050" textLength="12.7" lengthAdjust="spacingAndGlyphs">M5</text>
<text x="1025.5" y="9" font-size="9.6" fill="#505050" textLength="17.3" lengthAdjust="spacingAndGlyphs">M15</text>
<text x="1053" y="9" font-size="9.6" fill="#505050" textLength="18" lengthAdjust="spacingAndGlyphs">M30</text>
<text x="1084" y="9" font-size="9.6" fill="#505050" textLength="12" lengthAdjust="spacingAndGlyphs">H1</text>
<text x="1111.7" y="9" font-size="9.6" fill="#505050" textLength="12.3" lengthAdjust="spacingAndGlyphs">H4</text>
<text x="1139.8" y="9" font-size="9.6" fill="#505050" textLength="12.2" lengthAdjust="spacingAndGlyphs">D1</text>
<text x="1168" y="9" font-size="9.6" fill="#505050" textLength="14" lengthAdjust="spacingAndGlyphs">W1</text>
<text x="1194.6" y="9" font-size="9.6" fill="#505050" textLength="14.4" lengthAdjust="spacingAndGlyphs">MN</text>
<line x1="1680.4" y1="9.6" x2="1684.8" y2="5.2" stroke="#1c4cc8" stroke-width="2.7" stroke-linecap="butt"/>
<circle cx="1687.6" cy="2.6" r="4" fill="none" stroke="#2a58d8" stroke-width="1.4"/>
<ellipse cx="1720.5" cy="2.2" rx="6.2" ry="5.2" fill="#f8f8fb" stroke="#909090" stroke-width="0.8"/>
<path d="M1721.5,7 l2,1.8 l-0.3,-2.2 z" fill="#707070"/>
<ellipse cx="1711.4" cy="5.8" rx="5.2" ry="3.9" fill="#fbfbfd" stroke="#8c8c8c" stroke-width="0.8"/>
<path d="M1708.2,8.6 l0.4,2.6 l2.2,-1.8 z" fill="#808080"/>
<ellipse cx="1712" cy="7" rx="3.6" ry="1.8" fill="#d8d8e8" opacity="0.8"/>
<ellipse cx="1721" cy="3.5" rx="4" ry="2.2" fill="#dcdce8" opacity="0.7"/>
</svg>
</body></html>
